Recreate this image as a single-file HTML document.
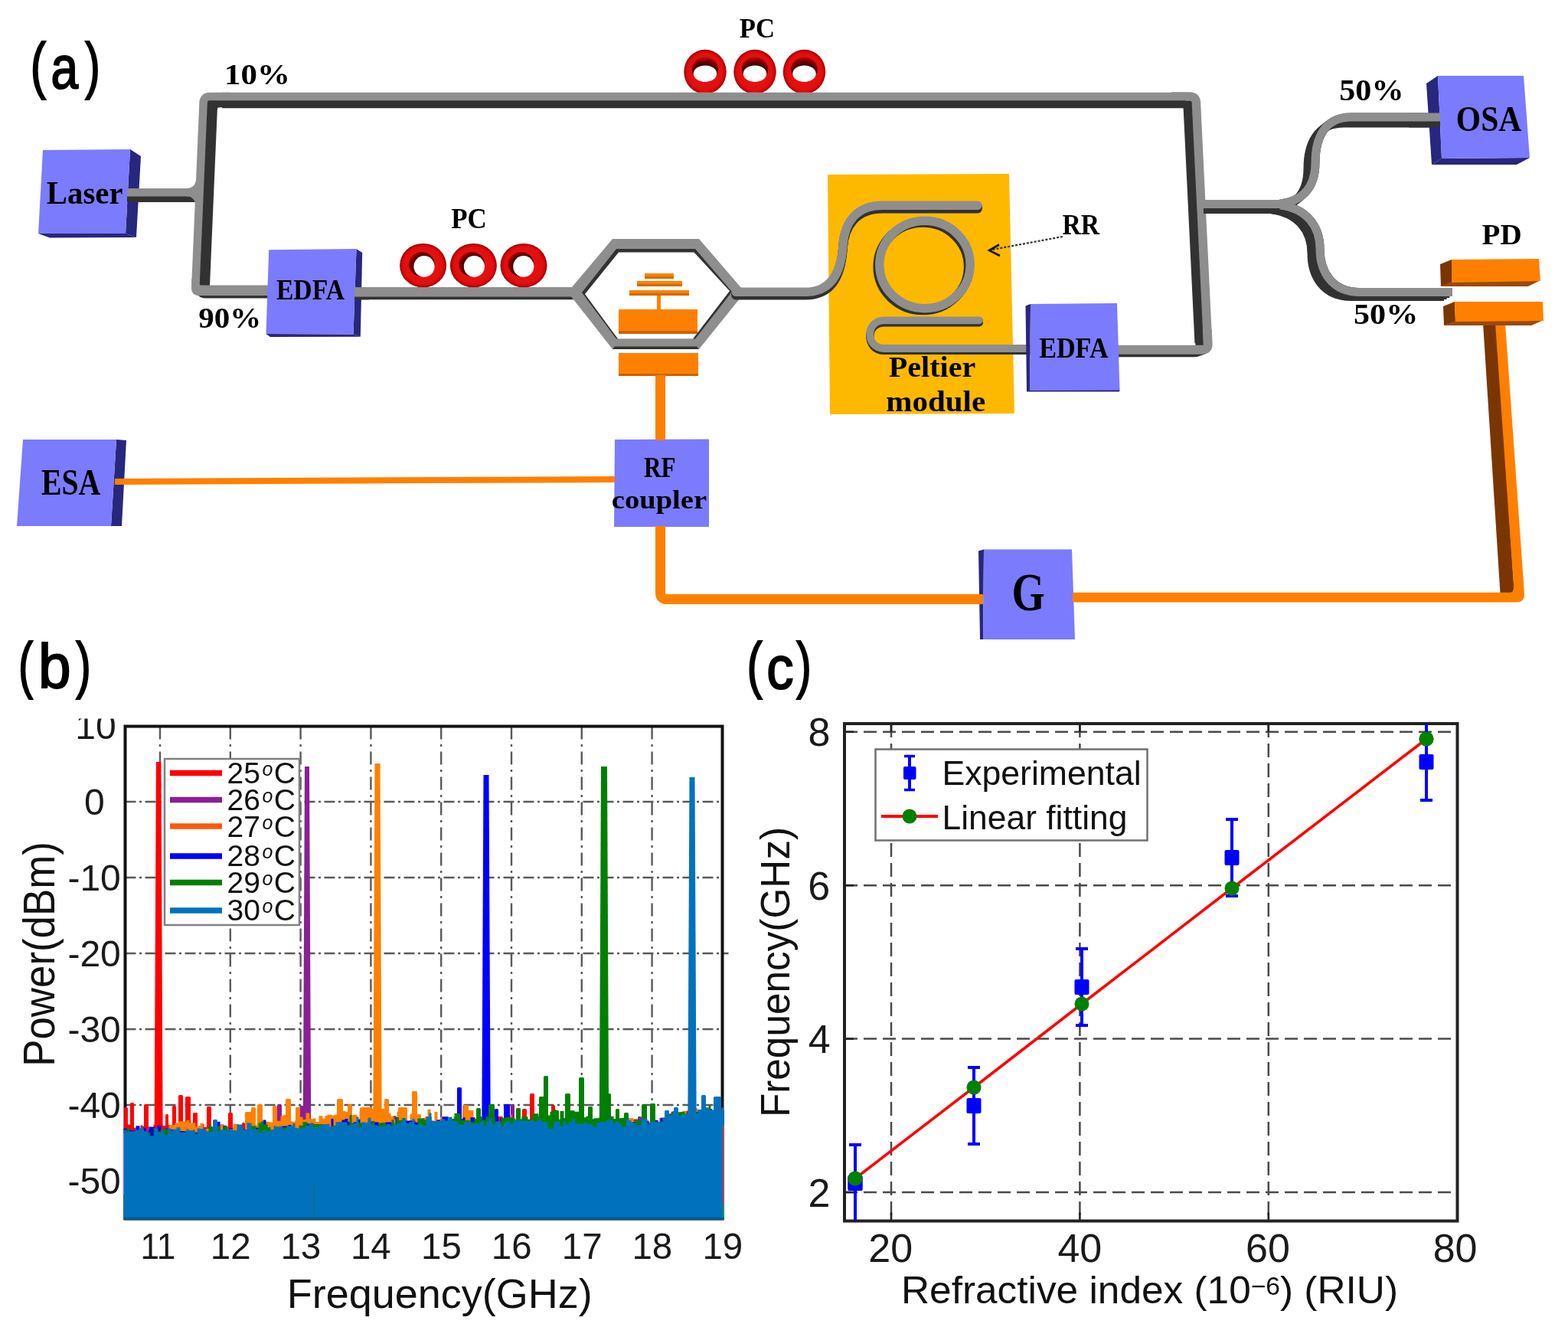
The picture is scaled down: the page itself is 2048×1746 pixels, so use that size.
<!DOCTYPE html>
<html lang="en">
<head>
<meta charset="utf-8">
<title>Figure: optoelectronic oscillator sensor</title>
<style>
html,body{margin:0;padding:0;background:#fff;}
body{width:2048px;height:1746px;overflow:hidden;}
svg{display:block;}
</style>
</head>
<body>
<svg width="2048" height="1746" viewBox="0 0 2048 1746">
<rect x="0" y="0" width="2048" height="1746" fill="#ffffff"/>
<g id="panel-a">
<polygon points="1081.0,228.0 1318.0,227.0 1325.0,540.0 1084.0,541.0" fill="#fdb900" />
<path d="M166,251.3 L258,251.3" transform="translate(0.00,7.50)" fill="none" stroke="#323232" stroke-width="10.5" stroke-linecap="butt" stroke-linejoin="round"/>
<path d="M166,251.3 L258,251.3" transform="translate(0.00,5.00)" fill="none" stroke="#323232" stroke-width="10.5" stroke-linecap="butt" stroke-linejoin="round"/>
<path d="M166,251.3 L258,251.3" transform="translate(0.00,2.50)" fill="none" stroke="#323232" stroke-width="10.5" stroke-linecap="butt" stroke-linejoin="round"/>
<path d="M166,251.3 L258,251.3" fill="none" stroke="#8e8e8e" stroke-width="10.5" stroke-linecap="butt" stroke-linejoin="round"/>
<path d="M255.6,368 L265.6,134 Q266,126 274,126 L300,126" transform="translate(13.00,9.00)" fill="none" stroke="#323232" stroke-width="10.5" stroke-linecap="butt" stroke-linejoin="round"/>
<path d="M255.6,368 L265.6,134 Q266,126 274,126 L300,126" transform="translate(8.67,6.00)" fill="none" stroke="#323232" stroke-width="10.5" stroke-linecap="butt" stroke-linejoin="round"/>
<path d="M255.6,368 L265.6,134 Q266,126 274,126 L300,126" transform="translate(4.33,3.00)" fill="none" stroke="#323232" stroke-width="10.5" stroke-linecap="butt" stroke-linejoin="round"/>
<path d="M255.6,368 L265.6,134 Q266,126 274,126 L300,126" fill="none" stroke="#8e8e8e" stroke-width="10.5" stroke-linecap="butt" stroke-linejoin="round"/>
<path d="M258,385 Q262,389.6 269,389.6 L352,389.6 L352,385 Z" fill="#323232"/>
<path d="M250.3,364 L250,376 Q250,386 260,386 L352,386 L352,372.5 L262,372.5 Q260.8,372 260.8,370 L261,364 Z" fill="#8e8e8e"/>
<path d="M244,246 Q255,246 256.2,234 L255.4,270 Q255,256.5 244,256.5 Z" fill="#8e8e8e"/>
<path d="M1530,126 L1554,126 Q1562,126 1562.4,134 L1577.2,440" transform="translate(-11.00,8.00)" fill="none" stroke="#323232" stroke-width="11.5" stroke-linecap="butt" stroke-linejoin="round"/>
<path d="M1530,126 L1554,126 Q1562,126 1562.4,134 L1577.2,440" transform="translate(-7.33,5.33)" fill="none" stroke="#323232" stroke-width="11.5" stroke-linecap="butt" stroke-linejoin="round"/>
<path d="M1530,126 L1554,126 Q1562,126 1562.4,134 L1577.2,440" transform="translate(-3.67,2.67)" fill="none" stroke="#323232" stroke-width="11.5" stroke-linecap="butt" stroke-linejoin="round"/>
<path d="M1530,126 L1554,126 Q1562,126 1562.4,134 L1577.2,440" fill="none" stroke="#8e8e8e" stroke-width="11.5" stroke-linecap="butt" stroke-linejoin="round"/>
<path d="M1576.7,430 L1577.6,449 Q1578,456.8 1570,456.8 L1455,456.8" transform="translate(-10.00,3.50)" fill="none" stroke="#323232" stroke-width="12.0" stroke-linecap="butt" stroke-linejoin="round"/>
<path d="M1576.7,430 L1577.6,449 Q1578,456.8 1570,456.8 L1455,456.8" transform="translate(-6.67,2.33)" fill="none" stroke="#323232" stroke-width="12.0" stroke-linecap="butt" stroke-linejoin="round"/>
<path d="M1576.7,430 L1577.6,449 Q1578,456.8 1570,456.8 L1455,456.8" transform="translate(-3.33,1.17)" fill="none" stroke="#323232" stroke-width="12.0" stroke-linecap="butt" stroke-linejoin="round"/>
<path d="M1576.7,430 L1577.6,449 Q1578,456.8 1570,456.8 L1455,456.8" fill="none" stroke="#8e8e8e" stroke-width="12.0" stroke-linecap="butt" stroke-linejoin="round"/>
<path d="M290,126 L1548,126" transform="translate(0.00,10.00)" fill="none" stroke="#323232" stroke-width="10.5" stroke-linecap="butt" stroke-linejoin="round"/>
<path d="M290,126 L1548,126" transform="translate(0.00,6.67)" fill="none" stroke="#323232" stroke-width="10.5" stroke-linecap="butt" stroke-linejoin="round"/>
<path d="M290,126 L1548,126" transform="translate(0.00,3.33)" fill="none" stroke="#323232" stroke-width="10.5" stroke-linecap="butt" stroke-linejoin="round"/>
<path d="M290,126 L1548,126" fill="none" stroke="#8e8e8e" stroke-width="10.5" stroke-linecap="butt" stroke-linejoin="round"/>
<path d="M1672,266 C1706,262 1718,240 1718,212 C1718,180 1730,153 1765,153 L1882,153" transform="translate(-10.00,8.00)" fill="none" stroke="#323232" stroke-width="11.0" stroke-linecap="butt" stroke-linejoin="round"/>
<path d="M1672,266 C1706,262 1718,240 1718,212 C1718,180 1730,153 1765,153 L1882,153" transform="translate(-6.67,5.33)" fill="none" stroke="#323232" stroke-width="11.0" stroke-linecap="butt" stroke-linejoin="round"/>
<path d="M1672,266 C1706,262 1718,240 1718,212 C1718,180 1730,153 1765,153 L1882,153" transform="translate(-3.33,2.67)" fill="none" stroke="#323232" stroke-width="11.0" stroke-linecap="butt" stroke-linejoin="round"/>
<path d="M1672,266 C1706,262 1718,240 1718,212 C1718,180 1730,153 1765,153 L1882,153" fill="none" stroke="#323232" stroke-width="11.0" stroke-linecap="butt" stroke-linejoin="round"/>
<path d="M1672,268 C1706,272 1724,295 1724,325 C1724,355 1740,381.5 1776,381.5 L1897,381.5" transform="translate(-11.00,6.00)" fill="none" stroke="#323232" stroke-width="11.0" stroke-linecap="butt" stroke-linejoin="round"/>
<path d="M1672,268 C1706,272 1724,295 1724,325 C1724,355 1740,381.5 1776,381.5 L1897,381.5" transform="translate(-7.33,4.00)" fill="none" stroke="#323232" stroke-width="11.0" stroke-linecap="butt" stroke-linejoin="round"/>
<path d="M1672,268 C1706,272 1724,295 1724,325 C1724,355 1740,381.5 1776,381.5 L1897,381.5" transform="translate(-3.67,2.00)" fill="none" stroke="#323232" stroke-width="11.0" stroke-linecap="butt" stroke-linejoin="round"/>
<path d="M1672,268 C1706,272 1724,295 1724,325 C1724,355 1740,381.5 1776,381.5 L1897,381.5" fill="none" stroke="#323232" stroke-width="11.0" stroke-linecap="butt" stroke-linejoin="round"/>
<path d="M1572,266.5 L1684,266.5" transform="translate(0.00,7.00)" fill="none" stroke="#323232" stroke-width="11.0" stroke-linecap="butt" stroke-linejoin="round"/>
<path d="M1572,266.5 L1684,266.5" transform="translate(0.00,4.67)" fill="none" stroke="#323232" stroke-width="11.0" stroke-linecap="butt" stroke-linejoin="round"/>
<path d="M1572,266.5 L1684,266.5" transform="translate(0.00,2.33)" fill="none" stroke="#323232" stroke-width="11.0" stroke-linecap="butt" stroke-linejoin="round"/>
<path d="M1572,266.5 L1684,266.5" fill="none" stroke="#323232" stroke-width="11.0" stroke-linecap="butt" stroke-linejoin="round"/>
<path d="M1672,266 C1706,262 1718,240 1718,212 C1718,180 1730,153 1765,153 L1882,153" fill="none" stroke="#8e8e8e" stroke-width="11"/>
<path d="M1672,268 C1706,272 1724,295 1724,325 C1724,355 1740,381.5 1776,381.5 L1897,381.5" fill="none" stroke="#8e8e8e" stroke-width="11"/>
<path d="M1572,266.5 L1684,266.5" fill="none" stroke="#8e8e8e" stroke-width="11"/>
<path d="M470,381.3 L753,381.3" transform="translate(0.00,3.80)" fill="none" stroke="#323232" stroke-width="12.5" stroke-linecap="butt" stroke-linejoin="round"/>
<path d="M470,381.3 L753,381.3" transform="translate(0.00,2.53)" fill="none" stroke="#323232" stroke-width="12.5" stroke-linecap="butt" stroke-linejoin="round"/>
<path d="M470,381.3 L753,381.3" transform="translate(0.00,1.27)" fill="none" stroke="#323232" stroke-width="12.5" stroke-linecap="butt" stroke-linejoin="round"/>
<path d="M470,381.3 L753,381.3" fill="none" stroke="#8e8e8e" stroke-width="12.5" stroke-linecap="butt" stroke-linejoin="round"/>
<polygon points="741.5,381.5 800.0,312.0 913.0,312.0 973.0,381.5 913.0,456.0 800.0,456.0" fill="#8e8e8e" />
<polygon points="800.0,456.0 803.0,452.5 910.0,452.5 913.0,456.0" fill="#323232" />
<polygon points="760.0,382.0 805.0,325.0 908.0,325.0 956.0,381.0 908.0,442.5 805.0,442.5" fill="#323232" />
<polygon points="764.0,384.0 808.0,329.5 906.5,329.5 953.0,380.0 905.0,442.5 807.0,442.5" fill="#ffffff" />
<path d="M961,381.3 L1052,381.3 C1088,381.3 1099,352 1101,320 C1103,291 1118,268.3 1153,268.3 L1277,268.3" transform="translate(0.00,4.50)" fill="none" stroke="#323232" stroke-width="11.5" stroke-linecap="round" stroke-linejoin="round"/>
<path d="M961,381.3 L1052,381.3 C1088,381.3 1099,352 1101,320 C1103,291 1118,268.3 1153,268.3 L1277,268.3" transform="translate(0.00,3.00)" fill="none" stroke="#323232" stroke-width="11.5" stroke-linecap="round" stroke-linejoin="round"/>
<path d="M961,381.3 L1052,381.3 C1088,381.3 1099,352 1101,320 C1103,291 1118,268.3 1153,268.3 L1277,268.3" transform="translate(0.00,1.50)" fill="none" stroke="#323232" stroke-width="11.5" stroke-linecap="round" stroke-linejoin="round"/>
<path d="M961,381.3 L1052,381.3 C1088,381.3 1099,352 1101,320 C1103,291 1118,268.3 1153,268.3 L1277,268.3" fill="none" stroke="#8e8e8e" stroke-width="11.5" stroke-linecap="round" stroke-linejoin="round"/>
<ellipse cx="1205.4" cy="348.3" rx="59.2" ry="57.2" fill="none" stroke="#323232" stroke-width="11.5"/>
<ellipse cx="1206.7" cy="346.9" rx="59.2" ry="57.2" fill="none" stroke="#323232" stroke-width="11.5"/>
<ellipse cx="1208" cy="345.5" rx="59.2" ry="57.2" fill="none" stroke="#8e8e8e" stroke-width="11.5"/>
<path d="M1279,418.3 L1155,418.3 C1130,418.3 1130,455 1155,455 L1346,455" transform="translate(0.00,3.20)" fill="none" stroke="#323232" stroke-width="9.8" stroke-linecap="round" stroke-linejoin="round"/>
<path d="M1279,418.3 L1155,418.3 C1130,418.3 1130,455 1155,455 L1346,455" transform="translate(0.00,2.13)" fill="none" stroke="#323232" stroke-width="9.8" stroke-linecap="round" stroke-linejoin="round"/>
<path d="M1279,418.3 L1155,418.3 C1130,418.3 1130,455 1155,455 L1346,455" transform="translate(0.00,1.07)" fill="none" stroke="#323232" stroke-width="9.8" stroke-linecap="round" stroke-linejoin="round"/>
<path d="M1279,418.3 L1155,418.3 C1130,418.3 1130,455 1155,455 L1346,455" fill="none" stroke="#8e8e8e" stroke-width="9.8" stroke-linecap="round" stroke-linejoin="round"/>
<defs>
<radialGradient id="rbody" cx="0.5" cy="0.5" r="0.5">
<stop offset="0" stop-color="#ec1212"/><stop offset="0.82" stop-color="#e40e0e"/><stop offset="0.93" stop-color="#c80606"/><stop offset="1" stop-color="#8e0000"/>
</radialGradient>
<radialGradient id="rin1" cx="0.5" cy="0.72" r="0.75">
<stop offset="0" stop-color="#1e0000"/><stop offset="0.55" stop-color="#3a0000"/><stop offset="0.8" stop-color="#8a0000"/><stop offset="1" stop-color="#d80a0a"/>
</radialGradient>
<radialGradient id="rin2" cx="0.62" cy="0.6" r="0.7">
<stop offset="0" stop-color="#1e0000"/><stop offset="0.6" stop-color="#3a0000"/><stop offset="0.85" stop-color="#8a0000"/><stop offset="1" stop-color="#d80a0a"/>
</radialGradient>
<clipPath id="cliptop"><rect x="880" y="50" width="220" height="70.8"/></clipPath>
<clipPath id="cliplow"><rect x="500" y="300" width="230" height="75.3"/></clipPath>
</defs>
<g clip-path="url(#cliptop)">
<ellipse cx="921.0" cy="93.8" rx="27.7" ry="29" fill="url(#rbody)"/>
<ellipse cx="921.0" cy="90.5" rx="17.3" ry="16" fill="url(#rin1)"/>
<ellipse cx="921.0" cy="96.2" rx="15.2" ry="10.8" fill="#ffffff"/>
<ellipse cx="986.0" cy="93.8" rx="27.7" ry="29" fill="url(#rbody)"/>
<ellipse cx="986.0" cy="90.5" rx="17.3" ry="16" fill="url(#rin1)"/>
<ellipse cx="986.0" cy="96.2" rx="15.2" ry="10.8" fill="#ffffff"/>
<ellipse cx="1050.5" cy="93.8" rx="27.7" ry="29" fill="url(#rbody)"/>
<ellipse cx="1050.5" cy="90.5" rx="17.3" ry="16" fill="url(#rin1)"/>
<ellipse cx="1050.5" cy="96.2" rx="15.2" ry="10.8" fill="#ffffff"/>
</g>
<g clip-path="url(#cliplow)">
<ellipse cx="552.6" cy="346.7" rx="30.5" ry="28.8" fill="url(#rbody)"/>
<ellipse cx="550.7" cy="345" rx="17" ry="16" fill="url(#rin2)"/>
<ellipse cx="554.0" cy="348" rx="13.6" ry="13.9" fill="#ffffff"/>
<ellipse cx="618.4" cy="346.7" rx="30.5" ry="28.8" fill="url(#rbody)"/>
<ellipse cx="616.1" cy="345" rx="17" ry="16" fill="url(#rin2)"/>
<ellipse cx="619.4" cy="348" rx="13.6" ry="13.9" fill="#ffffff"/>
<ellipse cx="684.0" cy="346.7" rx="30.5" ry="28.8" fill="url(#rbody)"/>
<ellipse cx="680.5" cy="345" rx="17" ry="16" fill="url(#rin2)"/>
<ellipse cx="683.8" cy="348" rx="13.6" ry="13.9" fill="#ffffff"/>
</g>
<polygon points="170.0,195.0 184.0,204.0 178.0,310.0 164.0,305.0" fill="#27277e" />
<polygon points="50.0,305.0 164.0,305.0 178.0,310.0 65.0,310.5" fill="#27277e" />
<polygon points="56.0,196.0 170.0,195.0 164.0,305.0 50.0,305.0" fill="#7b7bfd" />
<path d="M166,251.3 L190,251.3" transform="translate(0.00,7.50)" fill="none" stroke="#323232" stroke-width="10.5" stroke-linecap="butt" stroke-linejoin="round"/>
<path d="M166,251.3 L190,251.3" transform="translate(0.00,5.00)" fill="none" stroke="#323232" stroke-width="10.5" stroke-linecap="butt" stroke-linejoin="round"/>
<path d="M166,251.3 L190,251.3" transform="translate(0.00,2.50)" fill="none" stroke="#323232" stroke-width="10.5" stroke-linecap="butt" stroke-linejoin="round"/>
<path d="M166,251.3 L190,251.3" fill="none" stroke="#8e8e8e" stroke-width="10.5" stroke-linecap="butt" stroke-linejoin="round"/>
<polygon points="465.5,325.0 473.2,330.0 470.8,439.8 461.5,436.5" fill="#27277e" />
<polygon points="347.5,436.0 461.5,436.5 470.8,439.8 353.0,440.0" fill="#27277e" />
<polygon points="351.2,326.2 465.5,325.0 461.5,436.5 347.5,436.0" fill="#7b7bfd" />
<path d="M463,381.3 L482,381.3" transform="translate(0.00,3.80)" fill="none" stroke="#323232" stroke-width="12.5" stroke-linecap="butt" stroke-linejoin="round"/>
<path d="M463,381.3 L482,381.3" transform="translate(0.00,2.53)" fill="none" stroke="#323232" stroke-width="12.5" stroke-linecap="butt" stroke-linejoin="round"/>
<path d="M463,381.3 L482,381.3" transform="translate(0.00,1.27)" fill="none" stroke="#323232" stroke-width="12.5" stroke-linecap="butt" stroke-linejoin="round"/>
<path d="M463,381.3 L482,381.3" fill="none" stroke="#8e8e8e" stroke-width="12.5" stroke-linecap="butt" stroke-linejoin="round"/>
<polygon points="1339.5,399.5 1346.0,397.0 1345.0,510.0 1341.0,511.5" fill="#27277e" />
<polygon points="1341.0,511.5 1345.0,509.0 1462.5,509.0 1462.0,511.5" fill="#27277e" />
<polygon points="1346.0,397.0 1459.0,396.0 1462.5,509.5 1345.0,510.0" fill="#7b7bfd" />
<polygon points="1863.0,109.0 1878.0,99.0 1883.0,207.0 1870.0,215.0" fill="#27277e" />
<polygon points="1870.0,215.0 1883.0,207.0 1998.0,206.0 1981.0,215.0" fill="#27277e" />
<polygon points="1878.0,99.0 1990.0,99.0 1998.0,206.0 1883.0,207.0" fill="#7b7bfd" />
<path d="M1840,153 L1881,153" transform="translate(0.00,8.00)" fill="none" stroke="#323232" stroke-width="11.0" stroke-linecap="butt" stroke-linejoin="round"/>
<path d="M1840,153 L1881,153" transform="translate(0.00,5.33)" fill="none" stroke="#323232" stroke-width="11.0" stroke-linecap="butt" stroke-linejoin="round"/>
<path d="M1840,153 L1881,153" transform="translate(0.00,2.67)" fill="none" stroke="#323232" stroke-width="11.0" stroke-linecap="butt" stroke-linejoin="round"/>
<path d="M1840,153 L1881,153" fill="none" stroke="#8e8e8e" stroke-width="11.0" stroke-linecap="butt" stroke-linejoin="round"/>
<polygon points="152.0,574.0 165.0,575.0 159.0,687.0 145.0,687.0" fill="#27277e" />
<polygon points="30.0,574.0 152.0,574.0 145.0,687.0 22.0,687.0" fill="#7b7bfd" />
<polygon points="803.0,574.0 926.0,573.5 926.0,688.0 802.0,688.0" fill="#7b7bfd" />
<polygon points="1278.0,719.5 1285.0,717.5 1284.0,835.0 1280.0,835.0" fill="#27277e" />
<polygon points="1285.0,717.5 1400.0,717.5 1404.0,835.0 1284.0,835.0" fill="#7b7bfd" />
<polygon points="150.0,625.0 803.0,622.0 803.0,630.0 150.0,633.0" fill="#ff8000" />
<rect x="842" y="357" width="38" height="7" fill="#d06a00"/>
<rect x="842" y="357" width="38" height="4" fill="#ff8000"/>
<rect x="832" y="367" width="59" height="7" fill="#d06a00"/>
<rect x="832" y="367" width="59" height="4" fill="#ff8000"/>
<rect x="822" y="379" width="78" height="7" fill="#d06a00"/>
<rect x="822" y="379" width="78" height="4" fill="#ff8000"/>
<rect x="858" y="386" width="5" height="19" fill="#ff8000"/>
<rect x="808" y="404" width="103" height="32" fill="#c86400"/>
<rect x="808" y="404" width="103" height="28" fill="#ff8000"/>
<rect x="808" y="461" width="104" height="30" fill="#c86400"/>
<rect x="808" y="461" width="104" height="27" fill="#ff8000"/>
<rect x="856" y="490" width="13" height="85" fill="#ff8000"/>
<path d="M862.5,687 L862.5,774 Q862.5,782.5 871,782.5 L1284,782.5" fill="none" stroke="#ff8000" stroke-width="13" />
<polygon points="1937.0,422.0 1954.0,422.0 1977.5,768.0 1975.0,775.0 1959.5,775.0" fill="#7a3602" />
<path d="M1953,422 L1966,422 L1991,775.5 Q1991.5,786.5 1980.5,786.5 L1401,786.5 L1401,773.8 L1971.5,773.8 Q1977.6,773.8 1977.2,767.5 Z" fill="#ff8000"/>
<polygon points="1881.0,345.0 1896.0,339.0 1896.0,369.0 1882.0,374.0" fill="#7a3602" />
<polygon points="1882.0,374.0 1896.0,368.0 2012.0,366.0 1996.0,374.0" fill="#9a4a05" />
<polygon points="1896.0,339.0 2010.0,338.0 2012.0,367.0 1896.0,369.0" fill="#ff8000" />
<polygon points="1885.0,400.0 1900.0,394.0 1901.0,420.0 1886.0,425.0" fill="#7a3602" />
<polygon points="1886.0,425.0 1901.0,419.0 2016.0,418.0 2000.0,425.0" fill="#9a4a05" />
<polygon points="1900.0,394.0 2015.0,394.0 2016.0,419.0 1901.0,420.0" fill="#ff8000" />
<path d="M1388,309 L1296,326" fill="none" stroke="#333" stroke-width="2.2" stroke-dasharray="3 2"/>
<path d="M1305,319.5 L1292,327 L1306,334" fill="none" stroke="#111" stroke-width="2.6"/>
<text font-family='"Liberation Sans", "DejaVu Sans", sans-serif' fill="#000" stroke="#000" stroke-width="2"><tspan x="39.66" y="112.52" font-size="80.85" textLength="20.23" lengthAdjust="spacingAndGlyphs">(</tspan><tspan x="66.44" y="114.53" font-size="76.91" textLength="35.62" lengthAdjust="spacingAndGlyphs">a</tspan><tspan x="111.30" y="112.52" font-size="80.85" textLength="19.50" lengthAdjust="spacingAndGlyphs">)</tspan></text>
<text transform="translate(60.84,265.59) scale(0.9883,1)" font-family='"Liberation Serif", "DejaVu Serif", serif' font-size="41.29" font-weight="bold" fill="#000">Laser</text>
<text transform="translate(293.07,109.53) scale(1.1091,1)" font-family='"Liberation Serif", "DejaVu Serif", serif' font-size="38.68" font-weight="bold" fill="#000">10%</text>
<text transform="translate(259.18,427.98) scale(1.0622,1)" font-family='"Liberation Serif", "DejaVu Serif", serif' font-size="38.60" font-weight="bold" fill="#000">90%</text>
<text transform="translate(360.91,390.88) scale(0.9024,1)" font-family='"Liberation Serif", "DejaVu Serif", serif' font-size="37.31" font-weight="bold" fill="#000">EDFA</text>
<text transform="translate(965.65,48.57) scale(0.9536,1)" font-family='"Liberation Serif", "DejaVu Serif", serif' font-size="36.47" font-weight="bold" fill="#000">PC</text>
<text transform="translate(589.15,298.26) scale(0.9419,1)" font-family='"Liberation Serif", "DejaVu Serif", serif' font-size="37.13" font-weight="bold" fill="#000">PC</text>
<text transform="translate(1387.41,305.87) scale(0.8863,1)" font-family='"Liberation Serif", "DejaVu Serif", serif' font-size="37.88" font-weight="bold" fill="#000">RR</text>
<text transform="translate(1160.85,492.12) scale(1.0687,1)" font-family='"Liberation Serif", "DejaVu Serif", serif' font-size="37.50" font-weight="bold" fill="#000">Peltier</text>
<text transform="translate(1157.18,537.12) scale(1.0951,1)" font-family='"Liberation Serif", "DejaVu Serif", serif' font-size="37.50" font-weight="bold" fill="#000">module</text>
<text transform="translate(1357.16,467.13) scale(0.9151,1)" font-family='"Liberation Serif", "DejaVu Serif", serif' font-size="37.31" font-weight="bold" fill="#000">EDFA</text>
<text transform="translate(1901.84,171.07) scale(0.8977,1)" font-family='"Liberation Serif", "DejaVu Serif", serif' font-size="46.32" font-weight="bold" fill="#000">OSA</text>
<text transform="translate(1749.32,130.91) scale(1.0725,1)" font-family='"Liberation Serif", "DejaVu Serif", serif' font-size="39.26" font-weight="bold" fill="#000">50%</text>
<text transform="translate(1935.61,319.11) scale(1.0104,1)" font-family='"Liberation Serif", "DejaVu Serif", serif' font-size="38.64" font-weight="bold" fill="#000">PD</text>
<text transform="translate(1768.07,422.98) scale(1.0909,1)" font-family='"Liberation Serif", "DejaVu Serif", serif' font-size="38.60" font-weight="bold" fill="#000">50%</text>
<text transform="translate(54.00,646.34) scale(0.8318,1)" font-family='"Liberation Serif", "DejaVu Serif", serif' font-size="47.79" font-weight="bold" fill="#000">ESA</text>
<text transform="translate(840.94,623.37) scale(0.8236,1)" font-family='"Liberation Serif", "DejaVu Serif", serif' font-size="37.88" font-weight="bold" fill="#000">RF</text>
<text transform="translate(798.84,663.96) scale(1.1102,1)" font-family='"Liberation Serif", "DejaVu Serif", serif' font-size="34.72" font-weight="bold" fill="#000">coupler</text>
<text transform="translate(1321.53,797.12) scale(0.8038,1)" font-family='"Liberation Serif", "DejaVu Serif", serif' font-size="69.12" font-weight="bold" fill="#000">G</text>
</g>
<g id="panel-b">
<text font-family='"Liberation Sans", "DejaVu Sans", sans-serif' fill="#000" stroke="#000" stroke-width="2"><tspan x="23.88" y="895.52" font-size="80.85" textLength="18.99" lengthAdjust="spacingAndGlyphs">(</tspan><tspan x="49.91" y="898.48" font-size="82.16" textLength="42.56" lengthAdjust="spacingAndGlyphs">b</tspan><tspan x="99.30" y="895.52" font-size="80.85" textLength="19.50" lengthAdjust="spacingAndGlyphs">)</tspan></text>
<line x1="209.0" y1="948.5" x2="209.0" y2="1591.5" stroke="#5a5a5a" stroke-width="2.4" stroke-dasharray="17 6.5 3 6.5"/>
<line x1="300.8" y1="948.5" x2="300.8" y2="1591.5" stroke="#5a5a5a" stroke-width="2.4" stroke-dasharray="17 6.5 3 6.5"/>
<line x1="392.6" y1="948.5" x2="392.6" y2="1591.5" stroke="#5a5a5a" stroke-width="2.4" stroke-dasharray="17 6.5 3 6.5"/>
<line x1="484.4" y1="948.5" x2="484.4" y2="1591.5" stroke="#5a5a5a" stroke-width="2.4" stroke-dasharray="17 6.5 3 6.5"/>
<line x1="576.2" y1="948.5" x2="576.2" y2="1591.5" stroke="#5a5a5a" stroke-width="2.4" stroke-dasharray="17 6.5 3 6.5"/>
<line x1="668.0" y1="948.5" x2="668.0" y2="1591.5" stroke="#5a5a5a" stroke-width="2.4" stroke-dasharray="17 6.5 3 6.5"/>
<line x1="759.8" y1="948.5" x2="759.8" y2="1591.5" stroke="#5a5a5a" stroke-width="2.4" stroke-dasharray="17 6.5 3 6.5"/>
<line x1="851.6" y1="948.5" x2="851.6" y2="1591.5" stroke="#5a5a5a" stroke-width="2.4" stroke-dasharray="17 6.5 3 6.5"/>
<line x1="163.5" y1="1047.0" x2="943.5" y2="1047.0" stroke="#5a5a5a" stroke-width="2.4" stroke-dasharray="14 4.5 3 4.5"/>
<line x1="163.5" y1="1146.0" x2="943.5" y2="1146.0" stroke="#5a5a5a" stroke-width="2.4" stroke-dasharray="14 4.5 3 4.5"/>
<line x1="163.5" y1="1245.0" x2="951.5" y2="1245.0" stroke="#5a5a5a" stroke-width="2.4" stroke-dasharray="14 4.5 3 4.5"/>
<line x1="163.5" y1="1344.0" x2="943.5" y2="1344.0" stroke="#5a5a5a" stroke-width="2.4" stroke-dasharray="14 4.5 3 4.5"/>
<line x1="163.5" y1="1443.0" x2="943.5" y2="1443.0" stroke="#5a5a5a" stroke-width="2.4" stroke-dasharray="14 4.5 3 4.5"/>
<rect x="163.5" y="948.5" width="780.0" height="643.0" fill="none" stroke="#111" stroke-width="4"/>
<path d="M161.5,1592.5 L161.5,1474.9 L166.5,1474.9 L166.5,1468.5 L171.5,1468.5 L171.5,1472.8 L177.5,1472.8 L177.5,1474.6 L183.5,1474.6 L183.5,1469.4 L186.5,1469.4 L186.5,1470.7 L194.5,1470.7 L194.5,1475.5 L200.5,1475.5 L200.5,1468.8 L206.5,1468.8 L206.5,1469.6 L212.5,1469.6 L212.5,1470.2 L216.5,1470.2 L216.5,1468.7 L221.5,1468.7 L221.5,1472.9 L225.5,1472.9 L225.5,1471.4 L230.5,1471.4 L230.5,1470.6 L235.5,1470.6 L235.5,1470.3 L238.5,1470.3 L238.5,1464.8 L242.5,1464.8 L242.5,1467.6 L245.5,1467.6 L245.5,1473.7 L248.5,1473.7 L248.5,1469.0 L251.5,1469.0 L251.5,1476.3 L259.5,1476.3 L259.5,1470.4 L262.5,1470.4 L262.5,1467.9 L266.5,1467.9 L266.5,1472.1 L271.5,1472.1 L271.5,1467.3 L274.5,1467.3 L274.5,1473.6 L279.5,1473.6 L279.5,1475.1 L283.5,1475.1 L283.5,1470.8 L287.5,1470.8 L287.5,1468.4 L291.5,1468.4 L291.5,1471.5 L297.5,1471.5 L297.5,1477.5 L302.5,1477.5 L302.5,1472.7 L308.5,1472.7 L308.5,1472.6 L312.5,1472.6 L312.5,1473.7 L315.5,1473.7 L315.5,1468.6 L318.5,1468.6 L318.5,1473.5 L326.5,1473.5 L326.5,1476.4 L331.5,1476.4 L331.5,1470.6 L337.5,1470.6 L337.5,1473.8 L341.5,1473.8 L341.5,1476.9 L345.5,1476.9 L345.5,1471.3 L349.5,1471.3 L349.5,1474.9 L357.5,1474.9 L357.5,1472.6 L362.5,1472.6 L362.5,1473.9 L367.5,1473.9 L367.5,1472.9 L371.5,1472.9 L371.5,1470.6 L379.5,1470.6 L379.5,1473.5 L384.5,1473.5 L384.5,1477.2 L388.5,1477.2 L388.5,1469.0 L393.5,1469.0 L393.5,1470.0 L399.5,1470.0 L399.5,1469.9 L403.5,1469.9 L403.5,1467.8 L406.5,1467.8 L406.5,1473.0 L410.5,1473.0 L410.5,1471.5 L414.5,1471.5 L414.5,1470.9 L418.5,1470.9 L418.5,1464.8 L426.5,1464.8 L426.5,1469.0 L429.5,1469.0 L429.5,1463.3 L433.5,1463.3 L433.5,1460.8 L438.5,1460.8 L438.5,1470.1 L442.5,1470.1 L442.5,1463.3 L450.5,1463.3 L450.5,1467.6 L458.5,1467.6 L458.5,1460.7 L462.5,1460.7 L462.5,1469.8 L465.5,1469.8 L465.5,1466.4 L470.5,1466.4 L470.5,1464.4 L476.5,1464.4 L476.5,1465.7 L479.5,1465.7 L479.5,1470.0 L483.5,1470.0 L483.5,1464.8 L491.5,1464.8 L491.5,1458.0 L496.5,1458.0 L496.5,1468.3 L499.5,1468.3 L499.5,1465.0 L502.5,1465.0 L502.5,1466.7 L507.5,1466.7 L507.5,1464.5 L515.5,1464.5 L515.5,1465.1 L523.5,1465.1 L523.5,1467.9 L529.5,1467.9 L529.5,1469.5 L534.5,1469.5 L534.5,1463.6 L538.5,1463.6 L538.5,1467.8 L543.5,1467.8 L543.5,1466.3 L547.5,1466.3 L547.5,1463.1 L551.5,1463.1 L551.5,1460.2 L555.5,1460.2 L555.5,1458.4 L563.5,1458.4 L563.5,1466.0 L567.5,1466.0 L567.5,1465.8 L572.5,1465.8 L572.5,1462.4 L578.5,1462.4 L578.5,1464.5 L584.5,1464.5 L584.5,1465.4 L587.5,1465.4 L587.5,1463.0 L595.5,1463.0 L595.5,1462.8 L601.5,1462.8 L601.5,1467.4 L609.5,1467.4 L609.5,1466.4 L614.5,1466.4 L614.5,1468.7 L618.5,1468.7 L618.5,1466.0 L626.5,1466.0 L626.5,1466.1 L634.5,1466.1 L634.5,1465.0 L637.5,1465.0 L637.5,1464.3 L641.5,1464.3 L641.5,1465.1 L646.5,1465.1 L646.5,1465.5 L650.5,1465.5 L650.5,1458.1 L656.5,1458.1 L656.5,1465.5 L664.5,1465.5 L664.5,1461.5 L667.5,1461.5 L667.5,1467.9 L672.5,1467.9 L672.5,1465.5 L680.5,1465.5 L680.5,1465.1 L688.5,1465.1 L688.5,1462.0 L692.5,1462.0 L692.5,1465.8 L700.5,1465.8 L700.5,1466.0 L708.5,1466.0 L708.5,1464.7 L713.5,1464.7 L713.5,1461.6 L717.5,1461.6 L717.5,1464.6 L725.5,1464.6 L725.5,1465.1 L729.5,1465.1 L729.5,1465.8 L734.5,1465.8 L734.5,1467.3 L739.5,1467.3 L739.5,1465.3 L744.5,1465.3 L744.5,1462.9 L748.5,1462.9 L748.5,1465.6 L753.5,1465.6 L753.5,1468.6 L759.5,1468.6 L759.5,1465.1 L764.5,1465.1 L764.5,1463.6 L769.5,1463.6 L769.5,1465.0 L774.5,1465.0 L774.5,1467.9 L778.5,1467.9 L778.5,1464.0 L784.5,1464.0 L784.5,1466.3 L790.5,1466.3 L790.5,1469.7 L796.5,1469.7 L796.5,1469.0 L800.5,1469.0 L800.5,1465.9 L804.5,1465.9 L804.5,1457.5 L807.5,1457.5 L807.5,1466.3 L813.5,1466.3 L813.5,1467.2 L819.5,1467.2 L819.5,1463.6 L827.5,1463.6 L827.5,1461.4 L833.5,1461.4 L833.5,1467.4 L838.5,1467.4 L838.5,1464.1 L843.5,1464.1 L843.5,1466.2 L848.5,1466.2 L848.5,1467.2 L851.5,1467.2 L851.5,1468.9 L855.5,1468.9 L855.5,1464.2 L858.5,1464.2 L858.5,1466.3 L866.5,1466.3 L866.5,1459.6 L872.5,1459.6 L872.5,1457.0 L878.5,1457.0 L878.5,1454.7 L886.5,1454.7 L886.5,1455.8 L891.5,1455.8 L891.5,1450.9 L897.5,1450.9 L897.5,1450.6 L903.5,1450.6 L903.5,1452.6 L909.5,1452.6 L909.5,1454.3 L913.5,1454.3 L913.5,1449.9 L921.5,1449.9 L921.5,1449.3 L927.5,1449.3 L927.5,1451.9 L931.5,1451.9 L931.5,1457.8 L935.5,1457.8 L935.5,1444.2 L939.5,1444.2 L939.5,1447.8 L944.5,1447.8 L944.5,1450.7 L945.5,1450.7 L945.5,1592.5 Z" fill="#ff0000"/>
<rect x="162.0" y="1446.0" width="5.0" height="85.5" rx="1.5" fill="#ff0000"/>
<rect x="170.0" y="1440.0" width="5.0" height="91.5" rx="1.5" fill="#ff0000"/>
<rect x="188.0" y="1442.0" width="6.0" height="89.5" rx="1.5" fill="#ff0000"/>
<rect x="216.0" y="1455.0" width="4.0" height="76.5" rx="1.5" fill="#ff0000"/>
<rect x="225.0" y="1444.0" width="5.0" height="87.5" rx="1.5" fill="#ff0000"/>
<rect x="233.0" y="1430.0" width="6.0" height="101.5" rx="1.5" fill="#ff0000"/>
<rect x="242.0" y="1432.0" width="7.0" height="99.5" rx="1.5" fill="#ff0000"/>
<rect x="252.0" y="1453.0" width="6.0" height="78.5" rx="1.5" fill="#ff0000"/>
<rect x="270.0" y="1445.0" width="6.0" height="86.5" rx="1.5" fill="#ff0000"/>
<rect x="298.0" y="1453.0" width="6.0" height="78.5" rx="1.5" fill="#ff0000"/>
<rect x="308.0" y="1468.0" width="4.0" height="63.5" rx="1.5" fill="#ff0000"/>
<rect x="316.0" y="1466.0" width="4.0" height="65.5" rx="1.5" fill="#ff0000"/>
<rect x="692.0" y="1428.0" width="6.0" height="103.5" rx="1.5" fill="#ff0000"/>
<rect x="720.0" y="1443.0" width="5.0" height="88.5" rx="1.5" fill="#ff0000"/>
<rect x="682.0" y="1448.0" width="6.0" height="83.5" rx="1.5" fill="#ff0000"/>
<path d="M201.4,1531.5 L203.9,995.0 L210.4,995.0 L212.9,1531.5 Z" fill="#ff0000"/>
<path d="M161.5,1592.5 L161.5,1477.7 L166.5,1477.7 L166.5,1477.1 L171.5,1477.1 L171.5,1476.3 L175.5,1476.3 L175.5,1475.9 L179.5,1475.9 L179.5,1473.4 L187.5,1473.4 L187.5,1473.3 L191.5,1473.3 L191.5,1476.2 L194.5,1476.2 L194.5,1476.8 L198.5,1476.8 L198.5,1478.2 L201.5,1478.2 L201.5,1477.5 L207.5,1477.5 L207.5,1478.3 L212.5,1478.3 L212.5,1476.9 L216.5,1476.9 L216.5,1471.6 L222.5,1471.6 L222.5,1475.0 L228.5,1475.0 L228.5,1475.2 L231.5,1475.2 L231.5,1478.3 L236.5,1478.3 L236.5,1480.4 L242.5,1480.4 L242.5,1477.5 L250.5,1477.5 L250.5,1478.2 L254.5,1478.2 L254.5,1475.0 L258.5,1475.0 L258.5,1474.6 L262.5,1474.6 L262.5,1473.3 L266.5,1473.3 L266.5,1477.0 L271.5,1477.0 L271.5,1476.5 L274.5,1476.5 L274.5,1478.6 L280.5,1478.6 L280.5,1477.9 L288.5,1477.9 L288.5,1475.8 L293.5,1475.8 L293.5,1478.1 L296.5,1478.1 L296.5,1476.5 L300.5,1476.5 L300.5,1477.7 L305.5,1477.7 L305.5,1473.0 L309.5,1473.0 L309.5,1476.1 L317.5,1476.1 L317.5,1476.9 L323.5,1476.9 L323.5,1474.9 L327.5,1474.9 L327.5,1469.5 L330.5,1469.5 L330.5,1474.5 L336.5,1474.5 L336.5,1478.3 L339.5,1478.3 L339.5,1472.0 L343.5,1472.0 L343.5,1474.2 L347.5,1474.2 L347.5,1470.7 L351.5,1470.7 L351.5,1473.9 L356.5,1473.9 L356.5,1471.5 L359.5,1471.5 L359.5,1470.5 L365.5,1470.5 L365.5,1469.6 L373.5,1469.6 L373.5,1466.6 L377.5,1466.6 L377.5,1470.3 L381.5,1470.3 L381.5,1466.3 L385.5,1466.3 L385.5,1471.8 L393.5,1471.8 L393.5,1468.8 L397.5,1468.8 L397.5,1466.0 L402.5,1466.0 L402.5,1462.2 L408.5,1462.2 L408.5,1465.8 L413.5,1465.8 L413.5,1465.4 L416.5,1465.4 L416.5,1466.8 L419.5,1466.8 L419.5,1469.6 L425.5,1469.6 L425.5,1472.8 L433.5,1472.8 L433.5,1467.6 L437.5,1467.6 L437.5,1472.0 L442.5,1472.0 L442.5,1468.9 L445.5,1468.9 L445.5,1471.1 L451.5,1471.1 L451.5,1467.7 L456.5,1467.7 L456.5,1465.7 L464.5,1465.7 L464.5,1469.5 L472.5,1469.5 L472.5,1470.7 L477.5,1470.7 L477.5,1468.3 L480.5,1468.3 L480.5,1470.4 L483.5,1470.4 L483.5,1460.0 L487.5,1460.0 L487.5,1468.3 L491.5,1468.3 L491.5,1466.2 L495.5,1466.2 L495.5,1465.1 L499.5,1465.1 L499.5,1465.3 L507.5,1465.3 L507.5,1468.5 L513.5,1468.5 L513.5,1457.2 L517.5,1457.2 L517.5,1466.8 L522.5,1466.8 L522.5,1460.8 L527.5,1460.8 L527.5,1465.1 L533.5,1465.1 L533.5,1465.2 L537.5,1465.2 L537.5,1464.6 L541.5,1464.6 L541.5,1465.8 L545.5,1465.8 L545.5,1465.8 L549.5,1465.8 L549.5,1465.0 L554.5,1465.0 L554.5,1462.5 L560.5,1462.5 L560.5,1463.5 L566.5,1463.5 L566.5,1465.2 L574.5,1465.2 L574.5,1461.7 L579.5,1461.7 L579.5,1466.0 L584.5,1466.0 L584.5,1462.9 L589.5,1462.9 L589.5,1466.1 L593.5,1466.1 L593.5,1466.1 L597.5,1466.1 L597.5,1465.9 L605.5,1465.9 L605.5,1462.7 L613.5,1462.7 L613.5,1467.9 L617.5,1467.9 L617.5,1466.0 L621.5,1466.0 L621.5,1464.0 L624.5,1464.0 L624.5,1466.7 L627.5,1466.7 L627.5,1465.6 L635.5,1465.6 L635.5,1469.1 L639.5,1469.1 L639.5,1464.8 L642.5,1464.8 L642.5,1463.4 L645.5,1463.4 L645.5,1467.0 L648.5,1467.0 L648.5,1466.5 L656.5,1466.5 L656.5,1466.3 L660.5,1466.3 L660.5,1466.9 L668.5,1466.9 L668.5,1460.8 L671.5,1460.8 L671.5,1465.7 L675.5,1465.7 L675.5,1464.9 L679.5,1464.9 L679.5,1465.8 L687.5,1465.8 L687.5,1462.9 L691.5,1462.9 L691.5,1465.0 L695.5,1465.0 L695.5,1467.5 L698.5,1467.5 L698.5,1469.7 L702.5,1469.7 L702.5,1467.3 L710.5,1467.3 L710.5,1470.4 L718.5,1470.4 L718.5,1461.9 L724.5,1461.9 L724.5,1465.2 L729.5,1465.2 L729.5,1465.0 L737.5,1465.0 L737.5,1467.4 L741.5,1467.4 L741.5,1464.7 L745.5,1464.7 L745.5,1468.6 L753.5,1468.6 L753.5,1465.8 L758.5,1465.8 L758.5,1466.4 L766.5,1466.4 L766.5,1468.0 L771.5,1468.0 L771.5,1466.7 L776.5,1466.7 L776.5,1464.5 L781.5,1464.5 L781.5,1461.1 L787.5,1461.1 L787.5,1464.2 L791.5,1464.2 L791.5,1468.2 L795.5,1468.2 L795.5,1463.6 L799.5,1463.6 L799.5,1467.5 L804.5,1467.5 L804.5,1466.3 L809.5,1466.3 L809.5,1468.0 L815.5,1468.0 L815.5,1468.8 L819.5,1468.8 L819.5,1470.3 L823.5,1470.3 L823.5,1463.5 L829.5,1463.5 L829.5,1462.9 L833.5,1462.9 L833.5,1462.9 L839.5,1462.9 L839.5,1466.9 L843.5,1466.9 L843.5,1465.2 L851.5,1465.2 L851.5,1458.2 L854.5,1458.2 L854.5,1465.7 L857.5,1465.7 L857.5,1468.5 L861.5,1468.5 L861.5,1459.8 L865.5,1459.8 L865.5,1462.1 L869.5,1462.1 L869.5,1463.7 L873.5,1463.7 L873.5,1454.2 L876.5,1454.2 L876.5,1451.7 L880.5,1451.7 L880.5,1451.8 L885.5,1451.8 L885.5,1454.9 L893.5,1454.9 L893.5,1452.9 L897.5,1452.9 L897.5,1455.1 L903.5,1455.1 L903.5,1449.4 L911.5,1449.4 L911.5,1449.1 L915.5,1449.1 L915.5,1454.2 L918.5,1454.2 L918.5,1448.5 L922.5,1448.5 L922.5,1449.7 L926.5,1449.7 L926.5,1447.9 L930.5,1447.9 L930.5,1450.7 L935.5,1450.7 L935.5,1448.7 L941.5,1448.7 L941.5,1450.3 L945.5,1450.3 L945.5,1592.5 Z" fill="#8a1f96"/>
<rect x="362.0" y="1442.0" width="6.0" height="89.5" rx="1.5" fill="#8a1f96"/>
<rect x="667.0" y="1442.0" width="5.0" height="89.5" rx="1.5" fill="#8a1f96"/>
<rect x="392.0" y="1444.0" width="5.0" height="87.5" rx="1.5" fill="#8a1f96"/>
<rect x="833.0" y="1458.0" width="5.0" height="73.5" rx="1.5" fill="#8a1f96"/>
<path d="M395.5,1531.5 L398.0,1001.0 L404.0,1001.0 L406.5,1531.5 Z" fill="#8a1f96"/>
<path d="M161.5,1592.5 L161.5,1475.8 L165.5,1475.8 L165.5,1486.1 L169.5,1486.1 L169.5,1479.5 L177.5,1479.5 L177.5,1474.6 L181.5,1474.6 L181.5,1476.6 L189.5,1476.6 L189.5,1481.5 L195.5,1481.5 L195.5,1478.3 L199.5,1478.3 L199.5,1476.0 L203.5,1476.0 L203.5,1474.6 L211.5,1474.6 L211.5,1475.2 L215.5,1475.2 L215.5,1477.2 L220.5,1477.2 L220.5,1469.1 L228.5,1469.1 L228.5,1466.3 L233.5,1466.3 L233.5,1464.3 L239.5,1464.3 L239.5,1465.2 L243.5,1465.2 L243.5,1463.1 L247.5,1463.1 L247.5,1466.4 L255.5,1466.4 L255.5,1471.3 L261.5,1471.3 L261.5,1466.8 L265.5,1466.8 L265.5,1474.2 L269.5,1474.2 L269.5,1474.1 L275.5,1474.1 L275.5,1478.0 L279.5,1478.0 L279.5,1470.6 L284.5,1470.6 L284.5,1468.1 L292.5,1468.1 L292.5,1475.9 L295.5,1475.9 L295.5,1479.3 L300.5,1479.3 L300.5,1473.7 L304.5,1473.7 L304.5,1467.7 L308.5,1467.7 L308.5,1469.1 L316.5,1469.1 L316.5,1476.7 L324.5,1476.7 L324.5,1458.8 L332.5,1458.8 L332.5,1469.2 L335.5,1469.2 L335.5,1465.9 L343.5,1465.9 L343.5,1464.7 L351.5,1464.7 L351.5,1465.5 L355.5,1465.5 L355.5,1465.8 L361.5,1465.8 L361.5,1463.8 L366.5,1463.8 L366.5,1457.3 L370.5,1457.3 L370.5,1456.0 L373.5,1456.0 L373.5,1464.3 L381.5,1464.3 L381.5,1464.8 L385.5,1464.8 L385.5,1462.8 L389.5,1462.8 L389.5,1458.8 L395.5,1458.8 L395.5,1461.9 L399.5,1461.9 L399.5,1453.4 L404.5,1453.4 L404.5,1461.2 L408.5,1461.2 L408.5,1460.5 L412.5,1460.5 L412.5,1465.4 L416.5,1465.4 L416.5,1457.2 L421.5,1457.2 L421.5,1460.4 L424.5,1460.4 L424.5,1456.9 L427.5,1456.9 L427.5,1455.7 L433.5,1455.7 L433.5,1456.7 L436.5,1456.7 L436.5,1456.0 L439.5,1456.0 L439.5,1455.1 L443.5,1455.1 L443.5,1461.4 L447.5,1461.4 L447.5,1450.9 L451.5,1450.9 L451.5,1451.9 L456.5,1451.9 L456.5,1457.1 L460.5,1457.1 L460.5,1455.8 L466.5,1455.8 L466.5,1463.0 L469.5,1463.0 L469.5,1451.1 L472.5,1451.1 L472.5,1459.2 L476.5,1459.2 L476.5,1457.9 L479.5,1457.9 L479.5,1458.0 L487.5,1458.0 L487.5,1454.5 L492.5,1454.5 L492.5,1451.8 L497.5,1451.8 L497.5,1452.2 L500.5,1452.2 L500.5,1457.6 L506.5,1457.6 L506.5,1453.9 L510.5,1453.9 L510.5,1457.5 L514.5,1457.5 L514.5,1461.6 L518.5,1461.6 L518.5,1451.7 L521.5,1451.7 L521.5,1457.7 L529.5,1457.7 L529.5,1464.1 L535.5,1464.1 L535.5,1454.6 L538.5,1454.6 L538.5,1455.7 L543.5,1455.7 L543.5,1459.4 L548.5,1459.4 L548.5,1462.0 L554.5,1462.0 L554.5,1459.8 L558.5,1459.8 L558.5,1448.8 L562.5,1448.8 L562.5,1465.8 L567.5,1465.8 L567.5,1452.1 L571.5,1452.1 L571.5,1462.5 L575.5,1462.5 L575.5,1458.5 L583.5,1458.5 L583.5,1462.1 L586.5,1462.1 L586.5,1462.8 L592.5,1462.8 L592.5,1458.6 L596.5,1458.6 L596.5,1455.7 L602.5,1455.7 L602.5,1462.6 L610.5,1462.6 L610.5,1450.1 L618.5,1450.1 L618.5,1469.4 L622.5,1469.4 L622.5,1466.1 L628.5,1466.1 L628.5,1466.5 L632.5,1466.5 L632.5,1463.3 L635.5,1463.3 L635.5,1463.8 L638.5,1463.8 L638.5,1462.7 L642.5,1462.7 L642.5,1461.4 L647.5,1461.4 L647.5,1465.8 L653.5,1465.8 L653.5,1464.2 L658.5,1464.2 L658.5,1463.5 L662.5,1463.5 L662.5,1455.8 L668.5,1455.8 L668.5,1461.0 L672.5,1461.0 L672.5,1461.3 L678.5,1461.3 L678.5,1467.8 L681.5,1467.8 L681.5,1458.8 L687.5,1458.8 L687.5,1465.3 L693.5,1465.3 L693.5,1466.7 L699.5,1466.7 L699.5,1465.5 L703.5,1465.5 L703.5,1468.3 L707.5,1468.3 L707.5,1467.8 L710.5,1467.8 L710.5,1458.1 L713.5,1458.1 L713.5,1463.5 L718.5,1463.5 L718.5,1466.8 L721.5,1466.8 L721.5,1455.4 L725.5,1455.4 L725.5,1464.5 L731.5,1464.5 L731.5,1466.1 L737.5,1466.1 L737.5,1469.3 L740.5,1469.3 L740.5,1467.7 L748.5,1467.7 L748.5,1467.7 L752.5,1467.7 L752.5,1464.2 L755.5,1464.2 L755.5,1468.7 L759.5,1468.7 L759.5,1465.3 L767.5,1465.3 L767.5,1467.4 L773.5,1467.4 L773.5,1465.8 L776.5,1465.8 L776.5,1467.5 L784.5,1467.5 L784.5,1467.0 L792.5,1467.0 L792.5,1463.2 L796.5,1463.2 L796.5,1465.5 L802.5,1465.5 L802.5,1462.5 L810.5,1462.5 L810.5,1464.7 L813.5,1464.7 L813.5,1464.9 L817.5,1464.9 L817.5,1465.0 L821.5,1465.0 L821.5,1460.2 L827.5,1460.2 L827.5,1464.2 L833.5,1464.2 L833.5,1465.6 L838.5,1465.6 L838.5,1470.4 L842.5,1470.4 L842.5,1465.2 L850.5,1465.2 L850.5,1462.3 L854.5,1462.3 L854.5,1467.4 L857.5,1467.4 L857.5,1466.1 L861.5,1466.1 L861.5,1468.2 L864.5,1468.2 L864.5,1459.0 L868.5,1459.0 L868.5,1454.0 L874.5,1454.0 L874.5,1461.7 L879.5,1461.7 L879.5,1451.3 L882.5,1451.3 L882.5,1454.1 L888.5,1454.1 L888.5,1455.3 L891.5,1455.3 L891.5,1450.7 L896.5,1450.7 L896.5,1456.0 L902.5,1456.0 L902.5,1454.7 L906.5,1454.7 L906.5,1447.4 L911.5,1447.4 L911.5,1454.2 L917.5,1454.2 L917.5,1447.3 L921.5,1447.3 L921.5,1450.8 L927.5,1450.8 L927.5,1452.0 L930.5,1452.0 L930.5,1453.6 L935.5,1453.6 L935.5,1450.7 L940.5,1450.7 L940.5,1452.9 L945.5,1452.9 L945.5,1592.5 Z" fill="#ff8000"/>
<rect x="320.0" y="1452.0" width="12.0" height="79.5" rx="1.5" fill="#ff8000"/>
<rect x="328.0" y="1446.0" width="6.0" height="85.5" rx="1.5" fill="#ff8000"/>
<rect x="336.0" y="1442.0" width="7.0" height="89.5" rx="1.5" fill="#ff8000"/>
<rect x="356.0" y="1444.0" width="6.0" height="87.5" rx="1.5" fill="#ff8000"/>
<rect x="373.0" y="1435.0" width="7.0" height="96.5" rx="1.5" fill="#ff8000"/>
<rect x="386.0" y="1446.0" width="6.0" height="85.5" rx="1.5" fill="#ff8000"/>
<rect x="440.0" y="1435.0" width="8.0" height="96.5" rx="1.5" fill="#ff8000"/>
<rect x="454.0" y="1442.0" width="6.0" height="89.5" rx="1.5" fill="#ff8000"/>
<rect x="470.0" y="1446.0" width="16.0" height="85.5" rx="1.5" fill="#ff8000"/>
<rect x="480.0" y="1448.0" width="25.0" height="83.5" rx="1.5" fill="#ff8000"/>
<rect x="502.0" y="1435.0" width="6.0" height="96.5" rx="1.5" fill="#ff8000"/>
<rect x="520.0" y="1446.0" width="12.0" height="85.5" rx="1.5" fill="#ff8000"/>
<rect x="538.0" y="1425.0" width="7.0" height="106.5" rx="1.5" fill="#ff8000"/>
<rect x="545.0" y="1455.0" width="5.0" height="76.5" rx="1.5" fill="#ff8000"/>
<rect x="604.0" y="1443.0" width="8.0" height="88.5" rx="1.5" fill="#ff8000"/>
<path d="M487.0,1531.5 L489.5,997.0 L496.5,997.0 L499.0,1531.5 Z" fill="#ff8000"/>
<path d="M161.5,1592.5 L161.5,1473.4 L164.5,1473.4 L164.5,1473.4 L168.5,1473.4 L168.5,1475.8 L172.5,1475.8 L172.5,1476.6 L177.5,1476.6 L177.5,1470.3 L182.5,1470.3 L182.5,1478.7 L186.5,1478.7 L186.5,1472.8 L190.5,1472.8 L190.5,1478.6 L194.5,1478.6 L194.5,1471.5 L202.5,1471.5 L202.5,1474.2 L205.5,1474.2 L205.5,1470.0 L210.5,1470.0 L210.5,1477.5 L216.5,1477.5 L216.5,1473.7 L219.5,1473.7 L219.5,1475.3 L222.5,1475.3 L222.5,1475.3 L227.5,1475.3 L227.5,1476.9 L231.5,1476.9 L231.5,1475.7 L235.5,1475.7 L235.5,1476.9 L238.5,1476.9 L238.5,1477.2 L241.5,1477.2 L241.5,1477.6 L244.5,1477.6 L244.5,1478.1 L252.5,1478.1 L252.5,1479.0 L257.5,1479.0 L257.5,1477.6 L263.5,1477.6 L263.5,1474.6 L268.5,1474.6 L268.5,1477.8 L273.5,1477.8 L273.5,1477.0 L279.5,1477.0 L279.5,1464.7 L287.5,1464.7 L287.5,1480.7 L291.5,1480.7 L291.5,1469.8 L295.5,1469.8 L295.5,1476.3 L299.5,1476.3 L299.5,1473.0 L303.5,1473.0 L303.5,1483.1 L307.5,1483.1 L307.5,1477.0 L311.5,1477.0 L311.5,1472.3 L315.5,1472.3 L315.5,1475.0 L321.5,1475.0 L321.5,1477.0 L325.5,1477.0 L325.5,1480.8 L329.5,1480.8 L329.5,1475.7 L333.5,1475.7 L333.5,1472.5 L337.5,1472.5 L337.5,1476.1 L343.5,1476.1 L343.5,1462.5 L347.5,1462.5 L347.5,1474.1 L352.5,1474.1 L352.5,1477.6 L356.5,1477.6 L356.5,1475.8 L359.5,1475.8 L359.5,1473.8 L363.5,1473.8 L363.5,1473.5 L368.5,1473.5 L368.5,1470.6 L376.5,1470.6 L376.5,1469.1 L380.5,1469.1 L380.5,1474.4 L384.5,1474.4 L384.5,1475.0 L392.5,1475.0 L392.5,1475.1 L396.5,1475.1 L396.5,1467.4 L404.5,1467.4 L404.5,1469.7 L408.5,1469.7 L408.5,1470.0 L416.5,1470.0 L416.5,1469.0 L424.5,1469.0 L424.5,1469.5 L429.5,1469.5 L429.5,1473.2 L432.5,1473.2 L432.5,1461.1 L435.5,1461.1 L435.5,1471.1 L438.5,1471.1 L438.5,1471.2 L441.5,1471.2 L441.5,1469.8 L446.5,1469.8 L446.5,1462.6 L450.5,1462.6 L450.5,1461.0 L454.5,1461.0 L454.5,1464.9 L458.5,1464.9 L458.5,1473.7 L461.5,1473.7 L461.5,1465.6 L466.5,1465.6 L466.5,1461.8 L470.5,1461.8 L470.5,1473.2 L476.5,1473.2 L476.5,1466.9 L484.5,1466.9 L484.5,1464.4 L489.5,1464.4 L489.5,1465.6 L494.5,1465.6 L494.5,1469.1 L498.5,1469.1 L498.5,1471.4 L503.5,1471.4 L503.5,1465.6 L511.5,1465.6 L511.5,1469.0 L516.5,1469.0 L516.5,1459.0 L520.5,1459.0 L520.5,1465.7 L523.5,1465.7 L523.5,1464.0 L529.5,1464.0 L529.5,1463.5 L537.5,1463.5 L537.5,1463.6 L542.5,1463.6 L542.5,1465.7 L550.5,1465.7 L550.5,1464.9 L558.5,1464.9 L558.5,1464.4 L566.5,1464.4 L566.5,1465.4 L570.5,1465.4 L570.5,1462.5 L574.5,1462.5 L574.5,1467.0 L577.5,1467.0 L577.5,1458.3 L585.5,1458.3 L585.5,1465.2 L590.5,1465.2 L590.5,1461.3 L596.5,1461.3 L596.5,1463.7 L600.5,1463.7 L600.5,1461.2 L604.5,1461.2 L604.5,1459.3 L607.5,1459.3 L607.5,1468.8 L610.5,1468.8 L610.5,1463.0 L614.5,1463.0 L614.5,1459.2 L620.5,1459.2 L620.5,1463.3 L624.5,1463.3 L624.5,1461.0 L630.5,1461.0 L630.5,1458.5 L635.5,1458.5 L635.5,1463.8 L639.5,1463.8 L639.5,1464.8 L642.5,1464.8 L642.5,1463.8 L650.5,1463.8 L650.5,1466.7 L653.5,1466.7 L653.5,1459.8 L656.5,1459.8 L656.5,1466.2 L659.5,1466.2 L659.5,1465.5 L665.5,1465.5 L665.5,1463.2 L669.5,1463.2 L669.5,1462.9 L675.5,1462.9 L675.5,1468.1 L683.5,1468.1 L683.5,1466.1 L686.5,1466.1 L686.5,1468.7 L690.5,1468.7 L690.5,1469.1 L693.5,1469.1 L693.5,1464.8 L699.5,1464.8 L699.5,1469.3 L703.5,1469.3 L703.5,1469.2 L707.5,1469.2 L707.5,1463.9 L715.5,1463.9 L715.5,1463.1 L718.5,1463.1 L718.5,1461.4 L724.5,1461.4 L724.5,1468.3 L728.5,1468.3 L728.5,1466.7 L733.5,1466.7 L733.5,1468.2 L738.5,1468.2 L738.5,1470.9 L744.5,1470.9 L744.5,1462.8 L749.5,1462.8 L749.5,1462.6 L755.5,1462.6 L755.5,1465.6 L759.5,1465.6 L759.5,1467.0 L763.5,1467.0 L763.5,1470.2 L771.5,1470.2 L771.5,1461.6 L776.5,1461.6 L776.5,1468.5 L784.5,1468.5 L784.5,1469.3 L787.5,1469.3 L787.5,1464.4 L791.5,1464.4 L791.5,1466.5 L795.5,1466.5 L795.5,1466.2 L800.5,1466.2 L800.5,1469.2 L804.5,1469.2 L804.5,1465.3 L807.5,1465.3 L807.5,1462.2 L811.5,1462.2 L811.5,1467.5 L815.5,1467.5 L815.5,1465.8 L823.5,1465.8 L823.5,1467.6 L826.5,1467.6 L826.5,1464.9 L832.5,1464.9 L832.5,1468.8 L836.5,1468.8 L836.5,1466.3 L839.5,1466.3 L839.5,1465.7 L843.5,1465.7 L843.5,1463.4 L847.5,1463.4 L847.5,1467.2 L852.5,1467.2 L852.5,1464.4 L855.5,1464.4 L855.5,1462.8 L859.5,1462.8 L859.5,1466.5 L863.5,1466.5 L863.5,1460.2 L868.5,1460.2 L868.5,1459.1 L873.5,1459.1 L873.5,1458.5 L881.5,1458.5 L881.5,1453.3 L886.5,1453.3 L886.5,1455.0 L890.5,1455.0 L890.5,1456.5 L898.5,1456.5 L898.5,1450.7 L901.5,1450.7 L901.5,1454.9 L904.5,1454.9 L904.5,1452.9 L908.5,1452.9 L908.5,1452.0 L916.5,1452.0 L916.5,1451.8 L919.5,1451.8 L919.5,1449.0 L922.5,1449.0 L922.5,1450.6 L925.5,1450.6 L925.5,1450.9 L931.5,1450.9 L931.5,1450.0 L936.5,1450.0 L936.5,1447.8 L939.5,1447.8 L939.5,1452.5 L945.5,1452.5 L945.5,1592.5 Z" fill="#0000ff"/>
<rect x="597.0" y="1420.0" width="6.0" height="111.5" rx="1.5" fill="#0000ff"/>
<rect x="658.0" y="1442.0" width="8.0" height="89.5" rx="1.5" fill="#0000ff"/>
<rect x="646.0" y="1448.0" width="5.0" height="83.5" rx="1.5" fill="#0000ff"/>
<path d="M629.0,1531.5 L631.5,1012.0 L638.5,1012.0 L641.0,1531.5 Z" fill="#0000ff"/>
<path d="M161.5,1592.5 L161.5,1484.2 L165.5,1484.2 L165.5,1472.9 L169.5,1472.9 L169.5,1481.4 L177.5,1481.4 L177.5,1482.5 L180.5,1482.5 L180.5,1475.3 L188.5,1475.3 L188.5,1480.6 L192.5,1480.6 L192.5,1479.0 L196.5,1479.0 L196.5,1486.1 L200.5,1486.1 L200.5,1473.1 L205.5,1473.1 L205.5,1477.6 L210.5,1477.6 L210.5,1474.9 L218.5,1474.9 L218.5,1474.1 L221.5,1474.1 L221.5,1478.7 L224.5,1478.7 L224.5,1481.6 L232.5,1481.6 L232.5,1475.9 L235.5,1475.9 L235.5,1481.3 L238.5,1481.3 L238.5,1481.0 L243.5,1481.0 L243.5,1478.1 L249.5,1478.1 L249.5,1477.3 L255.5,1477.3 L255.5,1481.4 L258.5,1481.4 L258.5,1479.4 L262.5,1479.4 L262.5,1481.2 L267.5,1481.2 L267.5,1477.8 L272.5,1477.8 L272.5,1470.0 L276.5,1470.0 L276.5,1471.6 L279.5,1471.6 L279.5,1470.6 L287.5,1470.6 L287.5,1483.5 L292.5,1483.5 L292.5,1470.4 L297.5,1470.4 L297.5,1477.4 L302.5,1477.4 L302.5,1476.2 L308.5,1476.2 L308.5,1476.5 L312.5,1476.5 L312.5,1470.3 L316.5,1470.3 L316.5,1478.6 L322.5,1478.6 L322.5,1475.1 L327.5,1475.1 L327.5,1470.2 L330.5,1470.2 L330.5,1470.4 L334.5,1470.4 L334.5,1476.8 L337.5,1476.8 L337.5,1466.4 L340.5,1466.4 L340.5,1464.7 L344.5,1464.7 L344.5,1468.1 L349.5,1468.1 L349.5,1472.2 L353.5,1472.2 L353.5,1475.9 L358.5,1475.9 L358.5,1471.4 L364.5,1471.4 L364.5,1474.9 L368.5,1474.9 L368.5,1472.3 L374.5,1472.3 L374.5,1470.4 L380.5,1470.4 L380.5,1470.3 L384.5,1470.3 L384.5,1474.7 L390.5,1474.7 L390.5,1469.7 L395.5,1469.7 L395.5,1465.2 L401.5,1465.2 L401.5,1469.8 L405.5,1469.8 L405.5,1466.6 L409.5,1466.6 L409.5,1468.0 L415.5,1468.0 L415.5,1467.9 L421.5,1467.9 L421.5,1473.5 L429.5,1473.5 L429.5,1472.7 L433.5,1472.7 L433.5,1470.0 L441.5,1470.0 L441.5,1465.6 L447.5,1465.6 L447.5,1472.3 L452.5,1472.3 L452.5,1469.2 L456.5,1469.2 L456.5,1456.1 L459.5,1456.1 L459.5,1466.4 L463.5,1466.4 L463.5,1468.1 L467.5,1468.1 L467.5,1466.5 L472.5,1466.5 L472.5,1465.4 L476.5,1465.4 L476.5,1472.4 L480.5,1472.4 L480.5,1467.3 L485.5,1467.3 L485.5,1464.8 L489.5,1464.8 L489.5,1475.7 L494.5,1475.7 L494.5,1466.6 L498.5,1466.6 L498.5,1466.0 L503.5,1466.0 L503.5,1470.5 L511.5,1470.5 L511.5,1462.3 L514.5,1462.3 L514.5,1467.1 L517.5,1467.1 L517.5,1458.8 L520.5,1458.8 L520.5,1462.9 L525.5,1462.9 L525.5,1460.1 L529.5,1460.1 L529.5,1469.7 L537.5,1469.7 L537.5,1469.8 L540.5,1469.8 L540.5,1473.1 L545.5,1473.1 L545.5,1460.4 L553.5,1460.4 L553.5,1462.3 L557.5,1462.3 L557.5,1458.5 L563.5,1458.5 L563.5,1463.9 L571.5,1463.9 L571.5,1464.0 L576.5,1464.0 L576.5,1473.3 L581.5,1473.3 L581.5,1463.2 L589.5,1463.2 L589.5,1461.1 L593.5,1461.1 L593.5,1454.1 L601.5,1454.1 L601.5,1462.7 L607.5,1462.7 L607.5,1463.1 L615.5,1463.1 L615.5,1465.3 L619.5,1465.3 L619.5,1461.1 L624.5,1461.1 L624.5,1458.0 L629.5,1458.0 L629.5,1462.4 L634.5,1462.4 L634.5,1458.2 L638.5,1458.2 L638.5,1458.0 L646.5,1458.0 L646.5,1466.7 L654.5,1466.7 L654.5,1459.7 L660.5,1459.7 L660.5,1459.0 L668.5,1459.0 L668.5,1460.0 L672.5,1460.0 L672.5,1462.5 L676.5,1462.5 L676.5,1461.5 L681.5,1461.5 L681.5,1458.3 L689.5,1458.3 L689.5,1461.8 L695.5,1461.8 L695.5,1454.2 L703.5,1454.2 L703.5,1458.3 L706.5,1458.3 L706.5,1451.2 L710.5,1451.2 L710.5,1452.3 L714.5,1452.3 L714.5,1456.4 L718.5,1456.4 L718.5,1451.8 L723.5,1451.8 L723.5,1448.9 L726.5,1448.9 L726.5,1461.7 L731.5,1461.7 L731.5,1451.1 L736.5,1451.1 L736.5,1459.9 L744.5,1459.9 L744.5,1450.3 L750.5,1450.3 L750.5,1451.7 L758.5,1451.7 L758.5,1453.5 L762.5,1453.5 L762.5,1459.2 L765.5,1459.2 L765.5,1457.7 L769.5,1457.7 L769.5,1462.8 L775.5,1462.8 L775.5,1460.2 L781.5,1460.2 L781.5,1459.7 L786.5,1459.7 L786.5,1461.7 L792.5,1461.7 L792.5,1460.7 L796.5,1460.7 L796.5,1457.7 L801.5,1457.7 L801.5,1461.0 L809.5,1461.0 L809.5,1460.0 L815.5,1460.0 L815.5,1459.8 L821.5,1459.8 L821.5,1467.1 L829.5,1467.1 L829.5,1461.9 L833.5,1461.9 L833.5,1462.7 L837.5,1462.7 L837.5,1462.7 L842.5,1462.7 L842.5,1464.8 L846.5,1464.8 L846.5,1467.9 L854.5,1467.9 L854.5,1465.6 L858.5,1465.6 L858.5,1467.4 L861.5,1467.4 L861.5,1466.9 L865.5,1466.9 L865.5,1460.1 L869.5,1460.1 L869.5,1455.6 L877.5,1455.6 L877.5,1453.8 L885.5,1453.8 L885.5,1452.2 L889.5,1452.2 L889.5,1451.9 L894.5,1451.9 L894.5,1454.7 L898.5,1454.7 L898.5,1451.8 L901.5,1451.8 L901.5,1447.9 L909.5,1447.9 L909.5,1453.0 L915.5,1453.0 L915.5,1453.6 L920.5,1453.6 L920.5,1447.6 L925.5,1447.6 L925.5,1443.9 L928.5,1443.9 L928.5,1452.6 L936.5,1452.6 L936.5,1448.1 L939.5,1448.1 L939.5,1449.9 L944.5,1449.9 L944.5,1450.6 L945.5,1450.6 L945.5,1592.5 Z" fill="#008000"/>
<rect x="622.0" y="1447.0" width="6.0" height="84.5" rx="1.5" fill="#008000"/>
<rect x="638.0" y="1442.0" width="8.0" height="89.5" rx="1.5" fill="#008000"/>
<rect x="674.0" y="1447.0" width="6.0" height="84.5" rx="1.5" fill="#008000"/>
<rect x="704.0" y="1432.0" width="12.0" height="99.5" rx="1.5" fill="#008000"/>
<rect x="710.0" y="1405.0" width="6.0" height="126.5" rx="1.5" fill="#008000"/>
<rect x="738.0" y="1428.0" width="7.0" height="103.5" rx="1.5" fill="#008000"/>
<rect x="756.0" y="1407.0" width="7.0" height="124.5" rx="1.5" fill="#008000"/>
<rect x="794.0" y="1428.0" width="4.0" height="103.5" rx="1.5" fill="#008000"/>
<rect x="804.0" y="1448.0" width="5.0" height="83.5" rx="1.5" fill="#008000"/>
<rect x="815.0" y="1453.0" width="6.0" height="78.5" rx="1.5" fill="#008000"/>
<rect x="838.0" y="1442.0" width="7.0" height="89.5" rx="1.5" fill="#008000"/>
<rect x="849.0" y="1441.0" width="7.0" height="90.5" rx="1.5" fill="#008000"/>
<rect x="768.0" y="1445.0" width="6.0" height="86.5" rx="1.5" fill="#008000"/>
<rect x="722.0" y="1450.0" width="8.0" height="81.5" rx="1.5" fill="#008000"/>
<rect x="745.0" y="1452.0" width="7.0" height="79.5" rx="1.5" fill="#008000"/>
<path d="M782.5,1531.5 L785.0,1001.0 L793.0,1001.0 L795.5,1531.5 Z" fill="#008000"/>
<path d="M161.5,1592.5 L161.5,1475.8 L165.5,1475.8 L165.5,1478.4 L168.5,1478.4 L168.5,1477.4 L176.5,1477.4 L176.5,1475.8 L180.5,1475.8 L180.5,1474.3 L184.5,1474.3 L184.5,1471.8 L187.5,1471.8 L187.5,1477.5 L193.5,1477.5 L193.5,1483.3 L201.5,1483.3 L201.5,1473.7 L206.5,1473.7 L206.5,1478.4 L210.5,1478.4 L210.5,1477.0 L214.5,1477.0 L214.5,1482.1 L219.5,1482.1 L219.5,1473.4 L223.5,1473.4 L223.5,1476.4 L226.5,1476.4 L226.5,1474.7 L230.5,1474.7 L230.5,1472.3 L235.5,1472.3 L235.5,1478.7 L243.5,1478.7 L243.5,1474.4 L246.5,1474.4 L246.5,1476.3 L251.5,1476.3 L251.5,1475.4 L254.5,1475.4 L254.5,1480.9 L257.5,1480.9 L257.5,1473.6 L261.5,1473.6 L261.5,1474.6 L269.5,1474.6 L269.5,1477.9 L277.5,1477.9 L277.5,1474.0 L280.5,1474.0 L280.5,1477.5 L283.5,1477.5 L283.5,1477.4 L286.5,1477.4 L286.5,1475.5 L291.5,1475.5 L291.5,1475.4 L299.5,1475.4 L299.5,1474.1 L303.5,1474.1 L303.5,1477.1 L306.5,1477.1 L306.5,1476.6 L309.5,1476.6 L309.5,1468.6 L317.5,1468.6 L317.5,1475.6 L322.5,1475.6 L322.5,1466.6 L328.5,1466.6 L328.5,1474.2 L332.5,1474.2 L332.5,1474.8 L337.5,1474.8 L337.5,1479.8 L342.5,1479.8 L342.5,1475.5 L347.5,1475.5 L347.5,1477.4 L352.5,1477.4 L352.5,1475.2 L357.5,1475.2 L357.5,1470.5 L360.5,1470.5 L360.5,1472.8 L364.5,1472.8 L364.5,1470.7 L368.5,1470.7 L368.5,1474.9 L374.5,1474.9 L374.5,1470.2 L382.5,1470.2 L382.5,1467.0 L385.5,1467.0 L385.5,1472.9 L388.5,1472.9 L388.5,1473.6 L394.5,1473.6 L394.5,1472.3 L399.5,1472.3 L399.5,1470.3 L403.5,1470.3 L403.5,1467.0 L408.5,1467.0 L408.5,1471.6 L412.5,1471.6 L412.5,1472.4 L416.5,1472.4 L416.5,1469.5 L422.5,1469.5 L422.5,1468.1 L430.5,1468.1 L430.5,1471.6 L438.5,1471.6 L438.5,1465.3 L442.5,1465.3 L442.5,1465.3 L448.5,1465.3 L448.5,1465.6 L453.5,1465.6 L453.5,1470.6 L457.5,1470.6 L457.5,1468.6 L461.5,1468.6 L461.5,1467.1 L465.5,1467.1 L465.5,1458.6 L468.5,1458.6 L468.5,1471.7 L472.5,1471.7 L472.5,1466.0 L480.5,1466.0 L480.5,1459.7 L484.5,1459.7 L484.5,1468.1 L489.5,1468.1 L489.5,1469.6 L493.5,1469.6 L493.5,1470.5 L497.5,1470.5 L497.5,1470.8 L501.5,1470.8 L501.5,1470.2 L504.5,1470.2 L504.5,1468.0 L510.5,1468.0 L510.5,1470.4 L513.5,1470.4 L513.5,1466.6 L516.5,1466.6 L516.5,1468.5 L519.5,1468.5 L519.5,1466.3 L524.5,1466.3 L524.5,1461.5 L530.5,1461.5 L530.5,1466.8 L534.5,1466.8 L534.5,1465.3 L538.5,1465.3 L538.5,1461.0 L541.5,1461.0 L541.5,1468.7 L549.5,1468.7 L549.5,1468.9 L552.5,1468.9 L552.5,1469.9 L556.5,1469.9 L556.5,1458.6 L560.5,1458.6 L560.5,1453.6 L563.5,1453.6 L563.5,1464.1 L569.5,1464.1 L569.5,1464.1 L575.5,1464.1 L575.5,1461.4 L581.5,1461.4 L581.5,1463.8 L585.5,1463.8 L585.5,1458.7 L590.5,1458.7 L590.5,1463.4 L594.5,1463.4 L594.5,1464.4 L598.5,1464.4 L598.5,1468.8 L606.5,1468.8 L606.5,1464.8 L614.5,1464.8 L614.5,1467.5 L620.5,1467.5 L620.5,1467.1 L623.5,1467.1 L623.5,1467.1 L627.5,1467.1 L627.5,1464.3 L632.5,1464.3 L632.5,1470.2 L635.5,1470.2 L635.5,1464.6 L638.5,1464.6 L638.5,1460.2 L642.5,1460.2 L642.5,1468.3 L646.5,1468.3 L646.5,1464.6 L654.5,1464.6 L654.5,1471.1 L658.5,1471.1 L658.5,1465.1 L662.5,1465.1 L662.5,1464.2 L666.5,1464.2 L666.5,1467.4 L670.5,1467.4 L670.5,1463.0 L678.5,1463.0 L678.5,1463.6 L686.5,1463.6 L686.5,1463.7 L694.5,1463.7 L694.5,1463.1 L697.5,1463.1 L697.5,1464.8 L701.5,1464.8 L701.5,1461.9 L707.5,1461.9 L707.5,1465.1 L711.5,1465.1 L711.5,1465.4 L715.5,1465.4 L715.5,1473.8 L723.5,1473.8 L723.5,1464.8 L731.5,1464.8 L731.5,1470.9 L735.5,1470.9 L735.5,1464.7 L738.5,1464.7 L738.5,1468.6 L742.5,1468.6 L742.5,1465.1 L747.5,1465.1 L747.5,1461.3 L751.5,1461.3 L751.5,1467.5 L757.5,1467.5 L757.5,1467.7 L762.5,1467.7 L762.5,1466.0 L766.5,1466.0 L766.5,1467.4 L769.5,1467.4 L769.5,1468.1 L774.5,1468.1 L774.5,1471.7 L779.5,1471.7 L779.5,1465.9 L784.5,1465.9 L784.5,1464.7 L792.5,1464.7 L792.5,1462.5 L800.5,1462.5 L800.5,1467.2 L803.5,1467.2 L803.5,1464.7 L808.5,1464.7 L808.5,1467.6 L811.5,1467.6 L811.5,1471.7 L817.5,1471.7 L817.5,1461.3 L820.5,1461.3 L820.5,1463.2 L824.5,1463.2 L824.5,1465.8 L829.5,1465.8 L829.5,1469.2 L837.5,1469.2 L837.5,1461.0 L845.5,1461.0 L845.5,1467.9 L849.5,1467.9 L849.5,1464.5 L853.5,1464.5 L853.5,1464.8 L861.5,1464.8 L861.5,1464.7 L865.5,1464.7 L865.5,1460.6 L871.5,1460.6 L871.5,1458.1 L874.5,1458.1 L874.5,1456.4 L878.5,1456.4 L878.5,1451.1 L882.5,1451.1 L882.5,1457.3 L890.5,1457.3 L890.5,1455.6 L898.5,1455.6 L898.5,1449.9 L903.5,1449.9 L903.5,1455.2 L911.5,1455.2 L911.5,1449.2 L917.5,1449.2 L917.5,1449.6 L921.5,1449.6 L921.5,1446.2 L925.5,1446.2 L925.5,1449.9 L930.5,1449.9 L930.5,1449.6 L938.5,1449.6 L938.5,1451.3 L942.5,1451.3 L942.5,1446.2 L945.5,1446.2 L945.5,1592.5 Z" fill="#0072bd"/>
<rect x="278.0" y="1462.0" width="6.0" height="69.5" rx="1.5" fill="#0072bd"/>
<rect x="916.0" y="1430.0" width="6.0" height="101.5" rx="1.5" fill="#0072bd"/>
<rect x="932.0" y="1432.0" width="10.0" height="99.5" rx="1.5" fill="#0072bd"/>
<rect x="880.0" y="1446.0" width="6.0" height="85.5" rx="1.5" fill="#0072bd"/>
<rect x="868.0" y="1450.0" width="6.0" height="81.5" rx="1.5" fill="#0072bd"/>
<path d="M898.0,1531.5 L900.5,1015.0 L907.5,1015.0 L910.0,1531.5 Z" fill="#0072bd"/>
<line x1="410" y1="1546" x2="410" y2="1591" stroke="#04707c" stroke-width="1.6"/>
<line x1="945.2" y1="1470" x2="945.2" y2="1584" stroke="#ff3020" stroke-width="1.6"/>
<line x1="945.2" y1="1572" x2="945.2" y2="1591" stroke="#10a040" stroke-width="1.6"/>
<line x1="161.3" y1="1480" x2="161.3" y2="1560" stroke="#8a7cf0" stroke-width="1.4"/>
<line x1="161.5" y1="1591.5" x2="945.5" y2="1591.5" stroke="#06598d" stroke-width="3.5"/>
<rect x="215" y="991" width="176" height="217" fill="#fff" stroke="#808080" stroke-width="2.5"/>
<line x1="222" y1="1009.5" x2="290" y2="1009.5" stroke="#ff0000" stroke-width="7.5"/>
<text x="296.5" y="1023.0" font-family='"Liberation Sans", "DejaVu Sans", sans-serif' font-size="39" fill="#111">25<tspan font-size="25" font-style="italic" dx="2.5" dy="-10">o</tspan><tspan dy="10" dx="1.5">C</tspan></text>
<line x1="222" y1="1044.5" x2="290" y2="1044.5" stroke="#8a1f96" stroke-width="7.5"/>
<text x="296.5" y="1058.0" font-family='"Liberation Sans", "DejaVu Sans", sans-serif' font-size="39" fill="#111">26<tspan font-size="25" font-style="italic" dx="2.5" dy="-10">o</tspan><tspan dy="10" dx="1.5">C</tspan></text>
<line x1="222" y1="1079.0" x2="290" y2="1079.0" stroke="#ff5a0a" stroke-width="7.5"/>
<text x="296.5" y="1093.0" font-family='"Liberation Sans", "DejaVu Sans", sans-serif' font-size="39" fill="#111">27<tspan font-size="25" font-style="italic" dx="2.5" dy="-10">o</tspan><tspan dy="10" dx="1.5">C</tspan></text>
<line x1="222" y1="1118.0" x2="290" y2="1118.0" stroke="#0000ff" stroke-width="7.5"/>
<text x="296.5" y="1131.0" font-family='"Liberation Sans", "DejaVu Sans", sans-serif' font-size="39" fill="#111">28<tspan font-size="25" font-style="italic" dx="2.5" dy="-10">o</tspan><tspan dy="10" dx="1.5">C</tspan></text>
<line x1="222" y1="1152.5" x2="290" y2="1152.5" stroke="#008000" stroke-width="7.5"/>
<text x="296.5" y="1166.0" font-family='"Liberation Sans", "DejaVu Sans", sans-serif' font-size="39" fill="#111">29<tspan font-size="25" font-style="italic" dx="2.5" dy="-10">o</tspan><tspan dy="10" dx="1.5">C</tspan></text>
<line x1="222" y1="1189.0" x2="290" y2="1189.0" stroke="#0072bd" stroke-width="7.5"/>
<text x="296.5" y="1202.0" font-family='"Liberation Sans", "DejaVu Sans", sans-serif' font-size="39" fill="#111">30<tspan font-size="25" font-style="italic" dx="2.5" dy="-10">o</tspan><tspan dy="10" dx="1.5">C</tspan></text>
<text transform="translate(183.54,1644.30) scale(0.9300,1)" font-family='"Liberation Sans", "DejaVu Sans", sans-serif' font-size="47.50" font-weight="normal" fill="#1a1a1a" >11</text>
<text transform="translate(274.82,1644.30) scale(1.0000,1)" font-family='"Liberation Sans", "DejaVu Sans", sans-serif' font-size="47.50" font-weight="normal" fill="#1a1a1a" >12</text>
<text transform="translate(366.38,1644.30) scale(1.0000,1)" font-family='"Liberation Sans", "DejaVu Sans", sans-serif' font-size="47.50" font-weight="normal" fill="#1a1a1a" >13</text>
<text transform="translate(457.94,1644.30) scale(1.0000,1)" font-family='"Liberation Sans", "DejaVu Sans", sans-serif' font-size="47.50" font-weight="normal" fill="#1a1a1a" >14</text>
<text transform="translate(549.98,1644.30) scale(1.0000,1)" font-family='"Liberation Sans", "DejaVu Sans", sans-serif' font-size="47.50" font-weight="normal" fill="#1a1a1a" >15</text>
<text transform="translate(641.78,1644.30) scale(1.0000,1)" font-family='"Liberation Sans", "DejaVu Sans", sans-serif' font-size="47.50" font-weight="normal" fill="#1a1a1a" >16</text>
<text transform="translate(733.82,1644.30) scale(1.0000,1)" font-family='"Liberation Sans", "DejaVu Sans", sans-serif' font-size="47.50" font-weight="normal" fill="#1a1a1a" >17</text>
<text transform="translate(825.38,1644.30) scale(1.0000,1)" font-family='"Liberation Sans", "DejaVu Sans", sans-serif' font-size="47.50" font-weight="normal" fill="#1a1a1a" >18</text>
<text transform="translate(917.42,1644.30) scale(1.0000,1)" font-family='"Liberation Sans", "DejaVu Sans", sans-serif' font-size="47.50" font-weight="normal" fill="#1a1a1a" >19</text>
<clipPath id="clipb"><rect x="0" y="938.5" width="160" height="700"/></clipPath>
<g clip-path="url(#clipb)">
<text transform="translate(98.19,965.20) scale(1.0000,1)" font-family='"Liberation Sans", "DejaVu Sans", sans-serif' font-size="48.00" font-weight="normal" fill="#1a1a1a" >10</text>
<text transform="translate(110.00,1064.20) scale(1.0000,1)" font-family='"Liberation Sans", "DejaVu Sans", sans-serif' font-size="48.00" font-weight="normal" fill="#1a1a1a" >0</text>
<text transform="translate(88.42,1163.20) scale(1.0000,1)" font-family='"Liberation Sans", "DejaVu Sans", sans-serif' font-size="48.00" font-weight="normal" fill="#1a1a1a" >-10</text>
<text transform="translate(88.42,1262.20) scale(1.0000,1)" font-family='"Liberation Sans", "DejaVu Sans", sans-serif' font-size="48.00" font-weight="normal" fill="#1a1a1a" >-20</text>
<text transform="translate(88.42,1361.20) scale(1.0000,1)" font-family='"Liberation Sans", "DejaVu Sans", sans-serif' font-size="48.00" font-weight="normal" fill="#1a1a1a" >-30</text>
<text transform="translate(88.42,1460.20) scale(1.0000,1)" font-family='"Liberation Sans", "DejaVu Sans", sans-serif' font-size="48.00" font-weight="normal" fill="#1a1a1a" >-40</text>
<text transform="translate(88.42,1559.20) scale(1.0000,1)" font-family='"Liberation Sans", "DejaVu Sans", sans-serif' font-size="48.00" font-weight="normal" fill="#1a1a1a" >-50</text>
</g>
<text transform="translate(374.68,1707.50) scale(1.0096,1)" font-family='"Liberation Sans", "DejaVu Sans", sans-serif' font-size="53.50" font-weight="normal" fill="#111" >Frequency(GHz)</text>
<text transform="translate(71.2,1392.73) rotate(-90) scale(0.9349,1)" font-family='"Liberation Sans", "DejaVu Sans", sans-serif' font-size="56.5" fill="#111">Power(dBm)</text>
</g>
<g id="panel-c">
<text font-family='"Liberation Sans", "DejaVu Sans", sans-serif' fill="#000" stroke="#000" stroke-width="2"><tspan x="975.38" y="895.52" font-size="80.85" textLength="20.10" lengthAdjust="spacingAndGlyphs">(</tspan><tspan x="1001.37" y="898.51" font-size="78.73" textLength="35.34" lengthAdjust="spacingAndGlyphs">c</tspan><tspan x="1040.30" y="895.52" font-size="80.85" textLength="19.50" lengthAdjust="spacingAndGlyphs">)</tspan></text>
<clipPath id="clipc"><rect x="1103.0" y="943.0" width="800.5" height="651.5"/></clipPath>
<line x1="1164.0" y1="945.0" x2="1164.0" y2="1594.5" stroke="#4a4a4a" stroke-width="2.5" stroke-dasharray="18 8"/>
<line x1="1410.4" y1="945.0" x2="1410.4" y2="1594.5" stroke="#4a4a4a" stroke-width="2.5" stroke-dasharray="18 8"/>
<line x1="1656.8" y1="945.0" x2="1656.8" y2="1594.5" stroke="#4a4a4a" stroke-width="2.5" stroke-dasharray="18 8"/>
<line x1="1103.0" y1="1557.0" x2="1903.5" y2="1557.0" stroke="#4a4a4a" stroke-width="2.5" stroke-dasharray="17 8"/>
<line x1="1103.0" y1="1356.6" x2="1903.5" y2="1356.6" stroke="#4a4a4a" stroke-width="2.5" stroke-dasharray="17 8"/>
<line x1="1103.0" y1="1156.2" x2="1903.5" y2="1156.2" stroke="#4a4a4a" stroke-width="2.5" stroke-dasharray="17 8"/>
<line x1="1103.0" y1="955.8" x2="1903.5" y2="955.8" stroke="#4a4a4a" stroke-width="2.5" stroke-dasharray="17 8"/>
<g clip-path="url(#clipc)">
<line x1="1117" y1="1495" x2="1117" y2="1595" stroke="#0000ff" stroke-width="4"/>
<line x1="1109" y1="1495" x2="1125" y2="1495" stroke="#0000ff" stroke-width="4"/>
<line x1="1109" y1="1595" x2="1125" y2="1595" stroke="#0000ff" stroke-width="4"/>
<rect x="1107.5" y="1535.0" width="19" height="20" rx="2" fill="#0000ff"/>
<line x1="1272" y1="1394" x2="1272" y2="1494" stroke="#0000ff" stroke-width="4"/>
<line x1="1264" y1="1394" x2="1280" y2="1394" stroke="#0000ff" stroke-width="4"/>
<line x1="1264" y1="1494" x2="1280" y2="1494" stroke="#0000ff" stroke-width="4"/>
<rect x="1262.5" y="1434.0" width="19" height="20" rx="2" fill="#0000ff"/>
<line x1="1413" y1="1239" x2="1413" y2="1339" stroke="#0000ff" stroke-width="4"/>
<line x1="1405" y1="1239" x2="1421" y2="1239" stroke="#0000ff" stroke-width="4"/>
<line x1="1405" y1="1339" x2="1421" y2="1339" stroke="#0000ff" stroke-width="4"/>
<rect x="1403.5" y="1279.0" width="19" height="20" rx="2" fill="#0000ff"/>
<line x1="1609" y1="1070" x2="1609" y2="1170" stroke="#0000ff" stroke-width="4"/>
<line x1="1601" y1="1070" x2="1617" y2="1070" stroke="#0000ff" stroke-width="4"/>
<line x1="1601" y1="1170" x2="1617" y2="1170" stroke="#0000ff" stroke-width="4"/>
<rect x="1599.5" y="1110.0" width="19" height="20" rx="2" fill="#0000ff"/>
<line x1="1863" y1="945" x2="1863" y2="1045" stroke="#0000ff" stroke-width="4"/>
<line x1="1855" y1="945" x2="1871" y2="945" stroke="#0000ff" stroke-width="4"/>
<line x1="1855" y1="1045" x2="1871" y2="1045" stroke="#0000ff" stroke-width="4"/>
<rect x="1853.5" y="985.0" width="19" height="20" rx="2" fill="#0000ff"/>
<polyline points="1117,1539 1272,1420 1413,1311 1609,1160 1863,965" fill="none" stroke="#ff0000" stroke-width="3.6"/>
<circle cx="1117" cy="1539" r="9.5" fill="#008000"/>
<circle cx="1272" cy="1420" r="9.5" fill="#008000"/>
<circle cx="1413" cy="1311" r="9.5" fill="#008000"/>
<circle cx="1609" cy="1160" r="9.5" fill="#008000"/>
<circle cx="1863" cy="965" r="9.5" fill="#008000"/>
</g>
<line x1="1164.0" y1="945.0" x2="1164.0" y2="956.0" stroke="#222" stroke-width="2.6"/>
<line x1="1164.0" y1="1594.5" x2="1164.0" y2="1583.5" stroke="#222" stroke-width="2.6"/>
<line x1="1410.4" y1="945.0" x2="1410.4" y2="956.0" stroke="#222" stroke-width="2.6"/>
<line x1="1410.4" y1="1594.5" x2="1410.4" y2="1583.5" stroke="#222" stroke-width="2.6"/>
<line x1="1656.8" y1="945.0" x2="1656.8" y2="956.0" stroke="#222" stroke-width="2.6"/>
<line x1="1656.8" y1="1594.5" x2="1656.8" y2="1583.5" stroke="#222" stroke-width="2.6"/>
<line x1="1103.0" y1="1557.0" x2="1115.0" y2="1557.0" stroke="#222" stroke-width="2.6"/>
<line x1="1103.0" y1="1356.6" x2="1115.0" y2="1356.6" stroke="#222" stroke-width="2.6"/>
<line x1="1103.0" y1="1156.2" x2="1115.0" y2="1156.2" stroke="#222" stroke-width="2.6"/>
<line x1="1103.0" y1="955.8" x2="1115.0" y2="955.8" stroke="#222" stroke-width="2.6"/>
<rect x="1103.0" y="945.0" width="800.5" height="649.5" fill="none" stroke="#222" stroke-width="4"/>
<line x1="1863" y1="945" x2="1863" y2="1045" stroke="#0000ff" stroke-width="4"/>
<circle cx="1863" cy="965" r="9.5" fill="#008000"/>
<line x1="1117" y1="1495" x2="1117" y2="1595" stroke="#0000ff" stroke-width="4"/>
<rect x="1107.5" y="1535" width="19" height="20" rx="2" fill="#0000ff"/>
<circle cx="1117" cy="1539" r="9.5" fill="#008000"/>
<rect x="1143.5" y="978.5" width="355" height="119" fill="#fff" stroke="#707070" stroke-width="2.5"/>
<line x1="1188" y1="987" x2="1188" y2="1032" stroke="#0000ff" stroke-width="4"/>
<line x1="1181" y1="987.5" x2="1195" y2="987.5" stroke="#0000ff" stroke-width="3.5"/>
<line x1="1181" y1="1031.5" x2="1195" y2="1031.5" stroke="#0000ff" stroke-width="3.5"/>
<rect x="1180" y="1001" width="16.5" height="17" rx="2" fill="#0000ff"/>
<line x1="1151" y1="1066" x2="1225" y2="1066" stroke="#ff0000" stroke-width="4"/>
<circle cx="1188" cy="1066" r="9.5" fill="#008000"/>
<text transform="translate(1230.43,1025.00) scale(0.9913,1)" font-family='"Liberation Sans", "DejaVu Sans", sans-serif' font-size="45.00" font-weight="normal" fill="#111" >Experimental</text>
<text transform="translate(1230.45,1082.50) scale(0.9874,1)" font-family='"Liberation Sans", "DejaVu Sans", sans-serif' font-size="45.00" font-weight="normal" fill="#111" >Linear fitting</text>
<text transform="translate(1134.22,1647.80) scale(1.0000,1)" font-family='"Liberation Sans", "DejaVu Sans", sans-serif' font-size="52.00" font-weight="normal" fill="#1a1a1a" >20</text>
<text transform="translate(1381.40,1647.80) scale(1.0000,1)" font-family='"Liberation Sans", "DejaVu Sans", sans-serif' font-size="52.00" font-weight="normal" fill="#1a1a1a" >40</text>
<text transform="translate(1627.02,1647.80) scale(1.0000,1)" font-family='"Liberation Sans", "DejaVu Sans", sans-serif' font-size="52.00" font-weight="normal" fill="#1a1a1a" >60</text>
<text transform="translate(1871.68,1647.80) scale(1.0000,1)" font-family='"Liberation Sans", "DejaVu Sans", sans-serif' font-size="52.00" font-weight="normal" fill="#1a1a1a" >80</text>
<text transform="translate(1055.44,1575.60) scale(1.0000,1)" font-family='"Liberation Sans", "DejaVu Sans", sans-serif' font-size="52.00" font-weight="normal" fill="#1a1a1a" >2</text>
<text transform="translate(1055.70,1375.20) scale(1.0000,1)" font-family='"Liberation Sans", "DejaVu Sans", sans-serif' font-size="52.00" font-weight="normal" fill="#1a1a1a" >4</text>
<text transform="translate(1055.18,1174.80) scale(1.0000,1)" font-family='"Liberation Sans", "DejaVu Sans", sans-serif' font-size="52.00" font-weight="normal" fill="#1a1a1a" >6</text>
<text transform="translate(1055.44,974.40) scale(1.0000,1)" font-family='"Liberation Sans", "DejaVu Sans", sans-serif' font-size="52.00" font-weight="normal" fill="#1a1a1a" >8</text>
<text x="1501.5" y="1701.5" font-family='"Liberation Sans", "DejaVu Sans", sans-serif' font-size="50.5" text-anchor="middle" fill="#111" textLength="649" lengthAdjust="spacingAndGlyphs">Refractive index (10<tspan font-size="33" dy="-11">−6</tspan><tspan dy="11">) (RIU)</tspan></text>
<text transform="translate(1031,1459.11) rotate(-90) scale(0.9684,1)" font-family='"Liberation Sans", "DejaVu Sans", sans-serif' font-size="53.0" fill="#111">Frequency(GHz)</text>
</g>
</svg>
</body>
</html>
